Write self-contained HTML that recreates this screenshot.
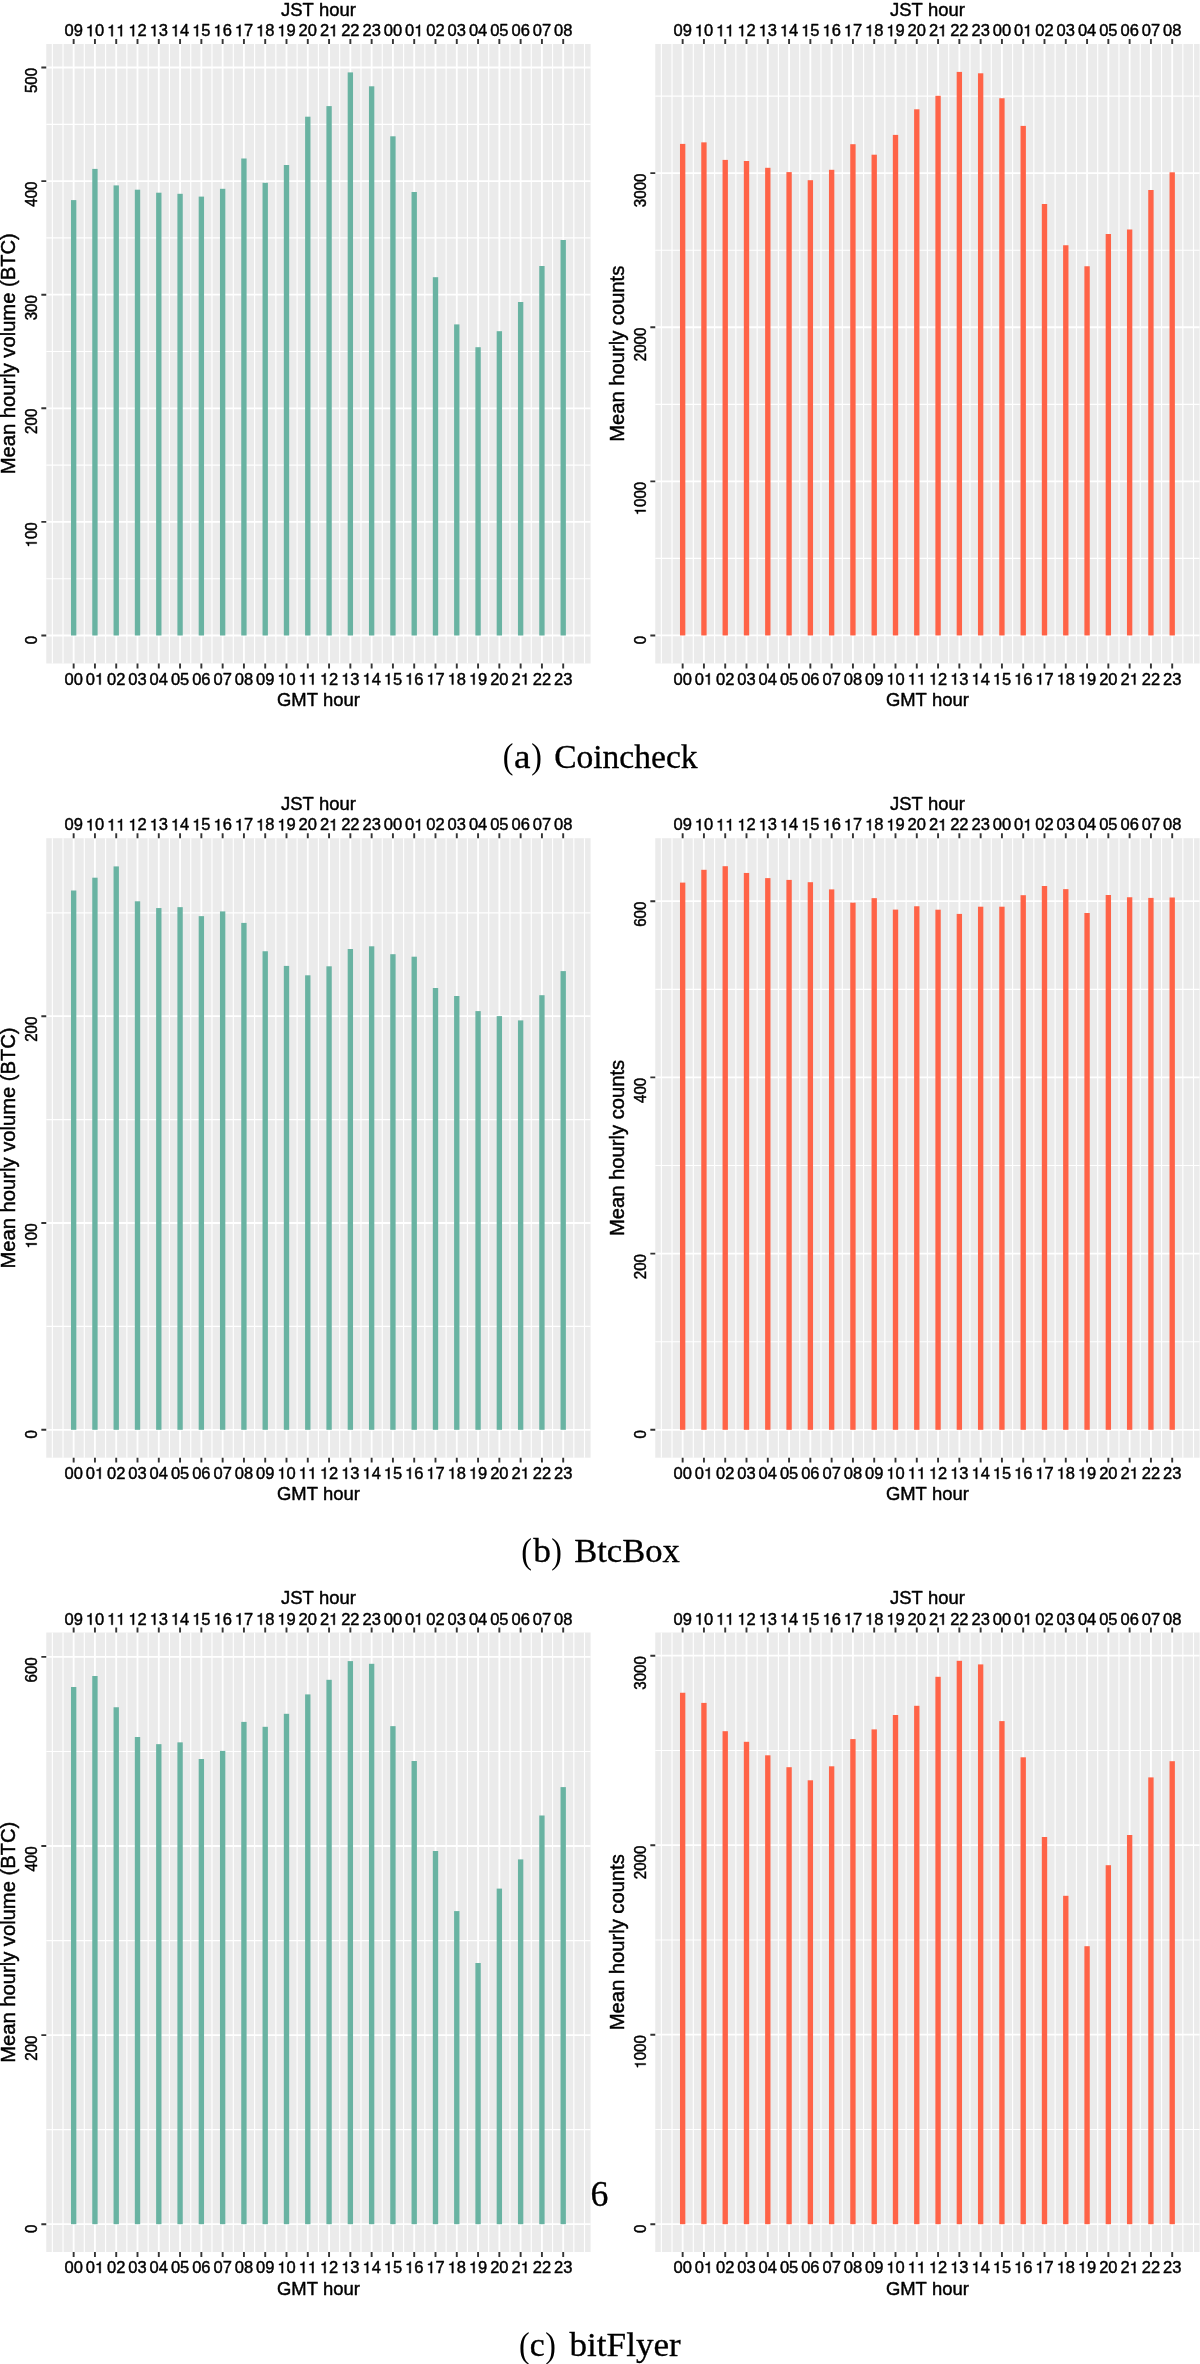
<!DOCTYPE html>
<html><head><meta charset="utf-8"><style>
html,body{margin:0;padding:0;background:#fff;}
body{width:1200px;height:2364px;overflow:hidden;}
svg{display:block;will-change:transform;}
.s text{font-family:"Liberation Sans",sans-serif;fill:#000000;stroke:#000000;stroke-width:0.45px;stroke-linejoin:round;font-kerning:none;font-feature-settings:"kern" 0;}
.h{fill-opacity:0;stroke-opacity:0;}
.o{fill:#000;stroke:#000;stroke-width:0.45px;stroke-linejoin:round;}
.r .b{stroke:#000;stroke-width:1.8;stroke-linejoin:round;}
.r{font-family:"Liberation Serif",serif;fill:#000;}
</style></head><body>
<svg width="1200" height="2364" viewBox="0 0 1200 2364">
<g class="s"><g><rect x="46.25" y="44" width="544.35" height="619.5" fill="#ebebeb"/><line x1="46.25" x2="590.6" y1="578.7" y2="578.7" stroke="#fff" stroke-width="1.15"/><line x1="46.25" x2="590.6" y1="465.1" y2="465.1" stroke="#fff" stroke-width="1.15"/><line x1="46.25" x2="590.6" y1="351.5" y2="351.5" stroke="#fff" stroke-width="1.15"/><line x1="46.25" x2="590.6" y1="237.9" y2="237.9" stroke="#fff" stroke-width="1.15"/><line x1="46.25" x2="590.6" y1="124.3" y2="124.3" stroke="#fff" stroke-width="1.15"/><line x1="52.37" x2="52.37" y1="44" y2="663.5" stroke="#fff" stroke-width="1.15"/><line x1="63.01" x2="63.01" y1="44" y2="663.5" stroke="#fff" stroke-width="1.15"/><line x1="84.29" x2="84.29" y1="44" y2="663.5" stroke="#fff" stroke-width="1.15"/><line x1="105.58" x2="105.58" y1="44" y2="663.5" stroke="#fff" stroke-width="1.15"/><line x1="126.86" x2="126.86" y1="44" y2="663.5" stroke="#fff" stroke-width="1.15"/><line x1="148.15" x2="148.15" y1="44" y2="663.5" stroke="#fff" stroke-width="1.15"/><line x1="169.43" x2="169.43" y1="44" y2="663.5" stroke="#fff" stroke-width="1.15"/><line x1="190.72" x2="190.72" y1="44" y2="663.5" stroke="#fff" stroke-width="1.15"/><line x1="212" x2="212" y1="44" y2="663.5" stroke="#fff" stroke-width="1.15"/><line x1="233.29" x2="233.29" y1="44" y2="663.5" stroke="#fff" stroke-width="1.15"/><line x1="254.57" x2="254.57" y1="44" y2="663.5" stroke="#fff" stroke-width="1.15"/><line x1="275.86" x2="275.86" y1="44" y2="663.5" stroke="#fff" stroke-width="1.15"/><line x1="297.14" x2="297.14" y1="44" y2="663.5" stroke="#fff" stroke-width="1.15"/><line x1="318.43" x2="318.43" y1="44" y2="663.5" stroke="#fff" stroke-width="1.15"/><line x1="339.71" x2="339.71" y1="44" y2="663.5" stroke="#fff" stroke-width="1.15"/><line x1="361" x2="361" y1="44" y2="663.5" stroke="#fff" stroke-width="1.15"/><line x1="382.28" x2="382.28" y1="44" y2="663.5" stroke="#fff" stroke-width="1.15"/><line x1="403.57" x2="403.57" y1="44" y2="663.5" stroke="#fff" stroke-width="1.15"/><line x1="424.85" x2="424.85" y1="44" y2="663.5" stroke="#fff" stroke-width="1.15"/><line x1="446.14" x2="446.14" y1="44" y2="663.5" stroke="#fff" stroke-width="1.15"/><line x1="467.42" x2="467.42" y1="44" y2="663.5" stroke="#fff" stroke-width="1.15"/><line x1="488.71" x2="488.71" y1="44" y2="663.5" stroke="#fff" stroke-width="1.15"/><line x1="509.99" x2="509.99" y1="44" y2="663.5" stroke="#fff" stroke-width="1.15"/><line x1="531.28" x2="531.28" y1="44" y2="663.5" stroke="#fff" stroke-width="1.15"/><line x1="552.56" x2="552.56" y1="44" y2="663.5" stroke="#fff" stroke-width="1.15"/><line x1="573.85" x2="573.85" y1="44" y2="663.5" stroke="#fff" stroke-width="1.15"/><line x1="584.49" x2="584.49" y1="44" y2="663.5" stroke="#fff" stroke-width="1.15"/><line x1="46.25" x2="590.6" y1="635.5" y2="635.5" stroke="#fff" stroke-width="1.8"/><line x1="46.25" x2="590.6" y1="521.9" y2="521.9" stroke="#fff" stroke-width="1.8"/><line x1="46.25" x2="590.6" y1="408.3" y2="408.3" stroke="#fff" stroke-width="1.8"/><line x1="46.25" x2="590.6" y1="294.7" y2="294.7" stroke="#fff" stroke-width="1.8"/><line x1="46.25" x2="590.6" y1="181.1" y2="181.1" stroke="#fff" stroke-width="1.8"/><line x1="46.25" x2="590.6" y1="67.5" y2="67.5" stroke="#fff" stroke-width="1.8"/><line x1="73.65" x2="73.65" y1="44" y2="663.5" stroke="#fff" stroke-width="1.8"/><line x1="94.94" x2="94.94" y1="44" y2="663.5" stroke="#fff" stroke-width="1.8"/><line x1="116.22" x2="116.22" y1="44" y2="663.5" stroke="#fff" stroke-width="1.8"/><line x1="137.5" x2="137.5" y1="44" y2="663.5" stroke="#fff" stroke-width="1.8"/><line x1="158.79" x2="158.79" y1="44" y2="663.5" stroke="#fff" stroke-width="1.8"/><line x1="180.07" x2="180.07" y1="44" y2="663.5" stroke="#fff" stroke-width="1.8"/><line x1="201.36" x2="201.36" y1="44" y2="663.5" stroke="#fff" stroke-width="1.8"/><line x1="222.65" x2="222.65" y1="44" y2="663.5" stroke="#fff" stroke-width="1.8"/><line x1="243.93" x2="243.93" y1="44" y2="663.5" stroke="#fff" stroke-width="1.8"/><line x1="265.22" x2="265.22" y1="44" y2="663.5" stroke="#fff" stroke-width="1.8"/><line x1="286.5" x2="286.5" y1="44" y2="663.5" stroke="#fff" stroke-width="1.8"/><line x1="307.78" x2="307.78" y1="44" y2="663.5" stroke="#fff" stroke-width="1.8"/><line x1="329.07" x2="329.07" y1="44" y2="663.5" stroke="#fff" stroke-width="1.8"/><line x1="350.36" x2="350.36" y1="44" y2="663.5" stroke="#fff" stroke-width="1.8"/><line x1="371.64" x2="371.64" y1="44" y2="663.5" stroke="#fff" stroke-width="1.8"/><line x1="392.92" x2="392.92" y1="44" y2="663.5" stroke="#fff" stroke-width="1.8"/><line x1="414.21" x2="414.21" y1="44" y2="663.5" stroke="#fff" stroke-width="1.8"/><line x1="435.5" x2="435.5" y1="44" y2="663.5" stroke="#fff" stroke-width="1.8"/><line x1="456.78" x2="456.78" y1="44" y2="663.5" stroke="#fff" stroke-width="1.8"/><line x1="478.07" x2="478.07" y1="44" y2="663.5" stroke="#fff" stroke-width="1.8"/><line x1="499.35" x2="499.35" y1="44" y2="663.5" stroke="#fff" stroke-width="1.8"/><line x1="520.63" x2="520.63" y1="44" y2="663.5" stroke="#fff" stroke-width="1.8"/><line x1="541.92" x2="541.92" y1="44" y2="663.5" stroke="#fff" stroke-width="1.8"/><line x1="563.21" x2="563.21" y1="44" y2="663.5" stroke="#fff" stroke-width="1.8"/><rect x="70.98" y="200.1" width="5.35" height="435.4" fill="#69b3a2"/><rect x="92.26" y="168.9" width="5.35" height="466.6" fill="#69b3a2"/><rect x="113.55" y="185.4" width="5.35" height="450.1" fill="#69b3a2"/><rect x="134.83" y="189.7" width="5.35" height="445.8" fill="#69b3a2"/><rect x="156.12" y="192.7" width="5.35" height="442.8" fill="#69b3a2"/><rect x="177.4" y="193.8" width="5.35" height="441.7" fill="#69b3a2"/><rect x="198.69" y="196.6" width="5.35" height="438.9" fill="#69b3a2"/><rect x="219.97" y="188.8" width="5.35" height="446.7" fill="#69b3a2"/><rect x="241.25" y="158.5" width="5.35" height="477" fill="#69b3a2"/><rect x="262.54" y="182.8" width="5.35" height="452.7" fill="#69b3a2"/><rect x="283.82" y="165" width="5.35" height="470.5" fill="#69b3a2"/><rect x="305.11" y="116.7" width="5.35" height="518.8" fill="#69b3a2"/><rect x="326.4" y="106.1" width="5.35" height="529.4" fill="#69b3a2"/><rect x="347.68" y="72.4" width="5.35" height="563.1" fill="#69b3a2"/><rect x="368.96" y="86.3" width="5.35" height="549.2" fill="#69b3a2"/><rect x="390.25" y="136.3" width="5.35" height="499.2" fill="#69b3a2"/><rect x="411.54" y="192" width="5.35" height="443.5" fill="#69b3a2"/><rect x="432.82" y="277.2" width="5.35" height="358.3" fill="#69b3a2"/><rect x="454.1" y="324.4" width="5.35" height="311.1" fill="#69b3a2"/><rect x="475.39" y="347.2" width="5.35" height="288.3" fill="#69b3a2"/><rect x="496.68" y="331.2" width="5.35" height="304.3" fill="#69b3a2"/><rect x="517.96" y="302" width="5.35" height="333.5" fill="#69b3a2"/><rect x="539.25" y="266" width="5.35" height="369.5" fill="#69b3a2"/><rect x="560.53" y="240" width="5.35" height="395.5" fill="#69b3a2"/><path d="M73.65 39.1V44M73.65 663.5V668.4M94.94 39.1V44M94.94 663.5V668.4M116.22 39.1V44M116.22 663.5V668.4M137.5 39.1V44M137.5 663.5V668.4M158.79 39.1V44M158.79 663.5V668.4M180.07 39.1V44M180.07 663.5V668.4M201.36 39.1V44M201.36 663.5V668.4M222.65 39.1V44M222.65 663.5V668.4M243.93 39.1V44M243.93 663.5V668.4M265.22 39.1V44M265.22 663.5V668.4M286.5 39.1V44M286.5 663.5V668.4M307.78 39.1V44M307.78 663.5V668.4M329.07 39.1V44M329.07 663.5V668.4M350.36 39.1V44M350.36 663.5V668.4M371.64 39.1V44M371.64 663.5V668.4M392.92 39.1V44M392.92 663.5V668.4M414.21 39.1V44M414.21 663.5V668.4M435.5 39.1V44M435.5 663.5V668.4M456.78 39.1V44M456.78 663.5V668.4M478.07 39.1V44M478.07 663.5V668.4M499.35 39.1V44M499.35 663.5V668.4M520.63 39.1V44M520.63 663.5V668.4M541.92 39.1V44M541.92 663.5V668.4M563.21 39.1V44M563.21 663.5V668.4M41.35 635.5H46.25M41.35 521.9H46.25M41.35 408.3H46.25M41.35 294.7H46.25M41.35 181.1H46.25M41.35 67.5H46.25" stroke="#333333" stroke-width="1.9" fill="none"/><g font-size="16.5" text-anchor="middle"><g transform="translate(73.65,36.2) scale(1,1.0)"><text>09</text></g><g transform="translate(73.65,684.6) scale(1,1.0)"><text>00</text></g><g transform="translate(94.94,36.2) scale(1,1.0)"><text><tspan class="h">1</tspan>0</text><path class="o" d="M-3.45 0L-3.45 -11.35L-4.41 -11.35C-4.92 -9.61 -5.25 -9.37 -7.49 -9.09L-7.49 -8.09L-4.9 -8.09L-4.9 0Z"/></g><g transform="translate(94.94,684.6) scale(1,1.0)"><text>0<tspan class="h">1</tspan></text><path class="o" d="M5.73 0L5.73 -11.35L4.77 -11.35C4.26 -9.61 3.93 -9.37 1.68 -9.09L1.68 -8.09L4.27 -8.09L4.27 0Z"/></g><g transform="translate(116.22,36.2) scale(1,1.0)"><text><tspan class="h">1</tspan><tspan class="h">1</tspan></text><path class="o" d="M-3.45 0L-3.45 -11.35L-4.41 -11.35C-4.92 -9.61 -5.25 -9.37 -7.49 -9.09L-7.49 -8.09L-4.9 -8.09L-4.9 0Z"/><path class="o" d="M5.73 0L5.73 -11.35L4.77 -11.35C4.26 -9.61 3.93 -9.37 1.68 -9.09L1.68 -8.09L4.27 -8.09L4.27 0Z"/></g><g transform="translate(116.22,684.6) scale(1,1.0)"><text>02</text></g><g transform="translate(137.5,36.2) scale(1,1.0)"><text><tspan class="h">1</tspan>2</text><path class="o" d="M-3.45 0L-3.45 -11.35L-4.41 -11.35C-4.92 -9.61 -5.25 -9.37 -7.49 -9.09L-7.49 -8.09L-4.9 -8.09L-4.9 0Z"/></g><g transform="translate(137.5,684.6) scale(1,1.0)"><text>03</text></g><g transform="translate(158.79,36.2) scale(1,1.0)"><text><tspan class="h">1</tspan>3</text><path class="o" d="M-3.45 0L-3.45 -11.35L-4.41 -11.35C-4.92 -9.61 -5.25 -9.37 -7.49 -9.09L-7.49 -8.09L-4.9 -8.09L-4.9 0Z"/></g><g transform="translate(158.79,684.6) scale(1,1.0)"><text>04</text></g><g transform="translate(180.07,36.2) scale(1,1.0)"><text><tspan class="h">1</tspan>4</text><path class="o" d="M-3.45 0L-3.45 -11.35L-4.41 -11.35C-4.92 -9.61 -5.25 -9.37 -7.49 -9.09L-7.49 -8.09L-4.9 -8.09L-4.9 0Z"/></g><g transform="translate(180.07,684.6) scale(1,1.0)"><text>05</text></g><g transform="translate(201.36,36.2) scale(1,1.0)"><text><tspan class="h">1</tspan>5</text><path class="o" d="M-3.45 0L-3.45 -11.35L-4.41 -11.35C-4.92 -9.61 -5.25 -9.37 -7.49 -9.09L-7.49 -8.09L-4.9 -8.09L-4.9 0Z"/></g><g transform="translate(201.36,684.6) scale(1,1.0)"><text>06</text></g><g transform="translate(222.65,36.2) scale(1,1.0)"><text><tspan class="h">1</tspan>6</text><path class="o" d="M-3.45 0L-3.45 -11.35L-4.41 -11.35C-4.92 -9.61 -5.25 -9.37 -7.49 -9.09L-7.49 -8.09L-4.9 -8.09L-4.9 0Z"/></g><g transform="translate(222.65,684.6) scale(1,1.0)"><text>07</text></g><g transform="translate(243.93,36.2) scale(1,1.0)"><text><tspan class="h">1</tspan>7</text><path class="o" d="M-3.45 0L-3.45 -11.35L-4.41 -11.35C-4.92 -9.61 -5.25 -9.37 -7.49 -9.09L-7.49 -8.09L-4.9 -8.09L-4.9 0Z"/></g><g transform="translate(243.93,684.6) scale(1,1.0)"><text>08</text></g><g transform="translate(265.22,36.2) scale(1,1.0)"><text><tspan class="h">1</tspan>8</text><path class="o" d="M-3.45 0L-3.45 -11.35L-4.41 -11.35C-4.92 -9.61 -5.25 -9.37 -7.49 -9.09L-7.49 -8.09L-4.9 -8.09L-4.9 0Z"/></g><g transform="translate(265.22,684.6) scale(1,1.0)"><text>09</text></g><g transform="translate(286.5,36.2) scale(1,1.0)"><text><tspan class="h">1</tspan>9</text><path class="o" d="M-3.45 0L-3.45 -11.35L-4.41 -11.35C-4.92 -9.61 -5.25 -9.37 -7.49 -9.09L-7.49 -8.09L-4.9 -8.09L-4.9 0Z"/></g><g transform="translate(286.5,684.6) scale(1,1.0)"><text><tspan class="h">1</tspan>0</text><path class="o" d="M-3.45 0L-3.45 -11.35L-4.41 -11.35C-4.92 -9.61 -5.25 -9.37 -7.49 -9.09L-7.49 -8.09L-4.9 -8.09L-4.9 0Z"/></g><g transform="translate(307.78,36.2) scale(1,1.0)"><text>20</text></g><g transform="translate(307.78,684.6) scale(1,1.0)"><text><tspan class="h">1</tspan><tspan class="h">1</tspan></text><path class="o" d="M-3.45 0L-3.45 -11.35L-4.41 -11.35C-4.92 -9.61 -5.25 -9.37 -7.49 -9.09L-7.49 -8.09L-4.9 -8.09L-4.9 0Z"/><path class="o" d="M5.73 0L5.73 -11.35L4.77 -11.35C4.26 -9.61 3.93 -9.37 1.68 -9.09L1.68 -8.09L4.27 -8.09L4.27 0Z"/></g><g transform="translate(329.07,36.2) scale(1,1.0)"><text>2<tspan class="h">1</tspan></text><path class="o" d="M5.73 0L5.73 -11.35L4.77 -11.35C4.26 -9.61 3.93 -9.37 1.68 -9.09L1.68 -8.09L4.27 -8.09L4.27 0Z"/></g><g transform="translate(329.07,684.6) scale(1,1.0)"><text><tspan class="h">1</tspan>2</text><path class="o" d="M-3.45 0L-3.45 -11.35L-4.41 -11.35C-4.92 -9.61 -5.25 -9.37 -7.49 -9.09L-7.49 -8.09L-4.9 -8.09L-4.9 0Z"/></g><g transform="translate(350.36,36.2) scale(1,1.0)"><text>22</text></g><g transform="translate(350.36,684.6) scale(1,1.0)"><text><tspan class="h">1</tspan>3</text><path class="o" d="M-3.45 0L-3.45 -11.35L-4.41 -11.35C-4.92 -9.61 -5.25 -9.37 -7.49 -9.09L-7.49 -8.09L-4.9 -8.09L-4.9 0Z"/></g><g transform="translate(371.64,36.2) scale(1,1.0)"><text>23</text></g><g transform="translate(371.64,684.6) scale(1,1.0)"><text><tspan class="h">1</tspan>4</text><path class="o" d="M-3.45 0L-3.45 -11.35L-4.41 -11.35C-4.92 -9.61 -5.25 -9.37 -7.49 -9.09L-7.49 -8.09L-4.9 -8.09L-4.9 0Z"/></g><g transform="translate(392.92,36.2) scale(1,1.0)"><text>00</text></g><g transform="translate(392.92,684.6) scale(1,1.0)"><text><tspan class="h">1</tspan>5</text><path class="o" d="M-3.45 0L-3.45 -11.35L-4.41 -11.35C-4.92 -9.61 -5.25 -9.37 -7.49 -9.09L-7.49 -8.09L-4.9 -8.09L-4.9 0Z"/></g><g transform="translate(414.21,36.2) scale(1,1.0)"><text>0<tspan class="h">1</tspan></text><path class="o" d="M5.73 0L5.73 -11.35L4.77 -11.35C4.26 -9.61 3.93 -9.37 1.68 -9.09L1.68 -8.09L4.27 -8.09L4.27 0Z"/></g><g transform="translate(414.21,684.6) scale(1,1.0)"><text><tspan class="h">1</tspan>6</text><path class="o" d="M-3.45 0L-3.45 -11.35L-4.41 -11.35C-4.92 -9.61 -5.25 -9.37 -7.49 -9.09L-7.49 -8.09L-4.9 -8.09L-4.9 0Z"/></g><g transform="translate(435.5,36.2) scale(1,1.0)"><text>02</text></g><g transform="translate(435.5,684.6) scale(1,1.0)"><text><tspan class="h">1</tspan>7</text><path class="o" d="M-3.45 0L-3.45 -11.35L-4.41 -11.35C-4.92 -9.61 -5.25 -9.37 -7.49 -9.09L-7.49 -8.09L-4.9 -8.09L-4.9 0Z"/></g><g transform="translate(456.78,36.2) scale(1,1.0)"><text>03</text></g><g transform="translate(456.78,684.6) scale(1,1.0)"><text><tspan class="h">1</tspan>8</text><path class="o" d="M-3.45 0L-3.45 -11.35L-4.41 -11.35C-4.92 -9.61 -5.25 -9.37 -7.49 -9.09L-7.49 -8.09L-4.9 -8.09L-4.9 0Z"/></g><g transform="translate(478.07,36.2) scale(1,1.0)"><text>04</text></g><g transform="translate(478.07,684.6) scale(1,1.0)"><text><tspan class="h">1</tspan>9</text><path class="o" d="M-3.45 0L-3.45 -11.35L-4.41 -11.35C-4.92 -9.61 -5.25 -9.37 -7.49 -9.09L-7.49 -8.09L-4.9 -8.09L-4.9 0Z"/></g><g transform="translate(499.35,36.2) scale(1,1.0)"><text>05</text></g><g transform="translate(499.35,684.6) scale(1,1.0)"><text>20</text></g><g transform="translate(520.63,36.2) scale(1,1.0)"><text>06</text></g><g transform="translate(520.63,684.6) scale(1,1.0)"><text>2<tspan class="h">1</tspan></text><path class="o" d="M5.73 0L5.73 -11.35L4.77 -11.35C4.26 -9.61 3.93 -9.37 1.68 -9.09L1.68 -8.09L4.27 -8.09L4.27 0Z"/></g><g transform="translate(541.92,36.2) scale(1,1.0)"><text>07</text></g><g transform="translate(541.92,684.6) scale(1,1.0)"><text>22</text></g><g transform="translate(563.21,36.2) scale(1,1.0)"><text>08</text></g><g transform="translate(563.21,684.6) scale(1,1.0)"><text>23</text></g></g><g font-size="18.45" text-anchor="middle"><text transform="translate(318.43,15.9) scale(1,1.044)">JST hour</text><text transform="translate(318.43,706) scale(1,1.044)">GMT hour</text></g><g font-size="15.1" text-anchor="end"><g transform="translate(36.65,635.9) rotate(-90) scale(1,1.035)"><text>0</text></g><g transform="translate(36.65,522.3) rotate(-90) scale(1,1.035)"><text><tspan class="h">1</tspan>00</text><path class="o" d="M-19.95 0L-19.95 -10.39L-20.83 -10.39C-21.3 -8.79 -21.6 -8.57 -23.65 -8.32L-23.65 -7.4L-21.28 -7.4L-21.28 0Z"/></g><g transform="translate(36.65,408.7) rotate(-90) scale(1,1.035)"><text>200</text></g><g transform="translate(36.65,295.1) rotate(-90) scale(1,1.035)"><text>300</text></g><g transform="translate(36.65,181.5) rotate(-90) scale(1,1.035)"><text>400</text></g><g transform="translate(36.65,67.9) rotate(-90) scale(1,1.035)"><text>500</text></g></g><text font-size="20.2" text-anchor="middle" transform="translate(14.95,353.75) rotate(-90) scale(1,1.044)">Mean hourly volume (BTC)</text></g><g><rect x="655.25" y="44" width="544.35" height="619.5" fill="#ebebeb"/><line x1="655.25" x2="1199.6" y1="558.4" y2="558.4" stroke="#fff" stroke-width="1.15"/><line x1="655.25" x2="1199.6" y1="404.3" y2="404.3" stroke="#fff" stroke-width="1.15"/><line x1="655.25" x2="1199.6" y1="250.2" y2="250.2" stroke="#fff" stroke-width="1.15"/><line x1="655.25" x2="1199.6" y1="96.1" y2="96.1" stroke="#fff" stroke-width="1.15"/><line x1="661.37" x2="661.37" y1="44" y2="663.5" stroke="#fff" stroke-width="1.15"/><line x1="672.01" x2="672.01" y1="44" y2="663.5" stroke="#fff" stroke-width="1.15"/><line x1="693.29" x2="693.29" y1="44" y2="663.5" stroke="#fff" stroke-width="1.15"/><line x1="714.58" x2="714.58" y1="44" y2="663.5" stroke="#fff" stroke-width="1.15"/><line x1="735.86" x2="735.86" y1="44" y2="663.5" stroke="#fff" stroke-width="1.15"/><line x1="757.15" x2="757.15" y1="44" y2="663.5" stroke="#fff" stroke-width="1.15"/><line x1="778.43" x2="778.43" y1="44" y2="663.5" stroke="#fff" stroke-width="1.15"/><line x1="799.72" x2="799.72" y1="44" y2="663.5" stroke="#fff" stroke-width="1.15"/><line x1="821" x2="821" y1="44" y2="663.5" stroke="#fff" stroke-width="1.15"/><line x1="842.29" x2="842.29" y1="44" y2="663.5" stroke="#fff" stroke-width="1.15"/><line x1="863.57" x2="863.57" y1="44" y2="663.5" stroke="#fff" stroke-width="1.15"/><line x1="884.86" x2="884.86" y1="44" y2="663.5" stroke="#fff" stroke-width="1.15"/><line x1="906.14" x2="906.14" y1="44" y2="663.5" stroke="#fff" stroke-width="1.15"/><line x1="927.43" x2="927.43" y1="44" y2="663.5" stroke="#fff" stroke-width="1.15"/><line x1="948.71" x2="948.71" y1="44" y2="663.5" stroke="#fff" stroke-width="1.15"/><line x1="970" x2="970" y1="44" y2="663.5" stroke="#fff" stroke-width="1.15"/><line x1="991.28" x2="991.28" y1="44" y2="663.5" stroke="#fff" stroke-width="1.15"/><line x1="1012.57" x2="1012.57" y1="44" y2="663.5" stroke="#fff" stroke-width="1.15"/><line x1="1033.85" x2="1033.85" y1="44" y2="663.5" stroke="#fff" stroke-width="1.15"/><line x1="1055.14" x2="1055.14" y1="44" y2="663.5" stroke="#fff" stroke-width="1.15"/><line x1="1076.42" x2="1076.42" y1="44" y2="663.5" stroke="#fff" stroke-width="1.15"/><line x1="1097.71" x2="1097.71" y1="44" y2="663.5" stroke="#fff" stroke-width="1.15"/><line x1="1118.99" x2="1118.99" y1="44" y2="663.5" stroke="#fff" stroke-width="1.15"/><line x1="1140.28" x2="1140.28" y1="44" y2="663.5" stroke="#fff" stroke-width="1.15"/><line x1="1161.56" x2="1161.56" y1="44" y2="663.5" stroke="#fff" stroke-width="1.15"/><line x1="1182.85" x2="1182.85" y1="44" y2="663.5" stroke="#fff" stroke-width="1.15"/><line x1="1193.49" x2="1193.49" y1="44" y2="663.5" stroke="#fff" stroke-width="1.15"/><line x1="655.25" x2="1199.6" y1="635.45" y2="635.45" stroke="#fff" stroke-width="1.8"/><line x1="655.25" x2="1199.6" y1="481.35" y2="481.35" stroke="#fff" stroke-width="1.8"/><line x1="655.25" x2="1199.6" y1="327.25" y2="327.25" stroke="#fff" stroke-width="1.8"/><line x1="655.25" x2="1199.6" y1="173.15" y2="173.15" stroke="#fff" stroke-width="1.8"/><line x1="682.65" x2="682.65" y1="44" y2="663.5" stroke="#fff" stroke-width="1.8"/><line x1="703.93" x2="703.93" y1="44" y2="663.5" stroke="#fff" stroke-width="1.8"/><line x1="725.22" x2="725.22" y1="44" y2="663.5" stroke="#fff" stroke-width="1.8"/><line x1="746.5" x2="746.5" y1="44" y2="663.5" stroke="#fff" stroke-width="1.8"/><line x1="767.79" x2="767.79" y1="44" y2="663.5" stroke="#fff" stroke-width="1.8"/><line x1="789.07" x2="789.07" y1="44" y2="663.5" stroke="#fff" stroke-width="1.8"/><line x1="810.36" x2="810.36" y1="44" y2="663.5" stroke="#fff" stroke-width="1.8"/><line x1="831.64" x2="831.64" y1="44" y2="663.5" stroke="#fff" stroke-width="1.8"/><line x1="852.93" x2="852.93" y1="44" y2="663.5" stroke="#fff" stroke-width="1.8"/><line x1="874.21" x2="874.21" y1="44" y2="663.5" stroke="#fff" stroke-width="1.8"/><line x1="895.5" x2="895.5" y1="44" y2="663.5" stroke="#fff" stroke-width="1.8"/><line x1="916.78" x2="916.78" y1="44" y2="663.5" stroke="#fff" stroke-width="1.8"/><line x1="938.07" x2="938.07" y1="44" y2="663.5" stroke="#fff" stroke-width="1.8"/><line x1="959.36" x2="959.36" y1="44" y2="663.5" stroke="#fff" stroke-width="1.8"/><line x1="980.64" x2="980.64" y1="44" y2="663.5" stroke="#fff" stroke-width="1.8"/><line x1="1001.92" x2="1001.92" y1="44" y2="663.5" stroke="#fff" stroke-width="1.8"/><line x1="1023.21" x2="1023.21" y1="44" y2="663.5" stroke="#fff" stroke-width="1.8"/><line x1="1044.49" x2="1044.49" y1="44" y2="663.5" stroke="#fff" stroke-width="1.8"/><line x1="1065.78" x2="1065.78" y1="44" y2="663.5" stroke="#fff" stroke-width="1.8"/><line x1="1087.07" x2="1087.07" y1="44" y2="663.5" stroke="#fff" stroke-width="1.8"/><line x1="1108.35" x2="1108.35" y1="44" y2="663.5" stroke="#fff" stroke-width="1.8"/><line x1="1129.63" x2="1129.63" y1="44" y2="663.5" stroke="#fff" stroke-width="1.8"/><line x1="1150.92" x2="1150.92" y1="44" y2="663.5" stroke="#fff" stroke-width="1.8"/><line x1="1172.2" x2="1172.2" y1="44" y2="663.5" stroke="#fff" stroke-width="1.8"/><rect x="679.98" y="143.9" width="5.35" height="491.55" fill="#ff6347"/><rect x="701.26" y="142.35" width="5.35" height="493.1" fill="#ff6347"/><rect x="722.55" y="159.9" width="5.35" height="475.55" fill="#ff6347"/><rect x="743.83" y="161" width="5.35" height="474.45" fill="#ff6347"/><rect x="765.12" y="167.8" width="5.35" height="467.65" fill="#ff6347"/><rect x="786.4" y="172.1" width="5.35" height="463.35" fill="#ff6347"/><rect x="807.69" y="180.2" width="5.35" height="455.25" fill="#ff6347"/><rect x="828.97" y="169.8" width="5.35" height="465.65" fill="#ff6347"/><rect x="850.25" y="144.2" width="5.35" height="491.25" fill="#ff6347"/><rect x="871.54" y="154.7" width="5.35" height="480.75" fill="#ff6347"/><rect x="892.83" y="134.9" width="5.35" height="500.55" fill="#ff6347"/><rect x="914.11" y="109.3" width="5.35" height="526.15" fill="#ff6347"/><rect x="935.39" y="95.8" width="5.35" height="539.65" fill="#ff6347"/><rect x="956.68" y="71.9" width="5.35" height="563.55" fill="#ff6347"/><rect x="977.97" y="73.3" width="5.35" height="562.15" fill="#ff6347"/><rect x="999.25" y="98.25" width="5.35" height="537.2" fill="#ff6347"/><rect x="1020.54" y="125.9" width="5.35" height="509.55" fill="#ff6347"/><rect x="1041.82" y="204" width="5.35" height="431.45" fill="#ff6347"/><rect x="1063.11" y="245.25" width="5.35" height="390.2" fill="#ff6347"/><rect x="1084.39" y="266.25" width="5.35" height="369.2" fill="#ff6347"/><rect x="1105.67" y="234" width="5.35" height="401.45" fill="#ff6347"/><rect x="1126.96" y="229.5" width="5.35" height="405.95" fill="#ff6347"/><rect x="1148.25" y="190" width="5.35" height="445.45" fill="#ff6347"/><rect x="1169.53" y="172.3" width="5.35" height="463.15" fill="#ff6347"/><path d="M682.65 39.1V44M682.65 663.5V668.4M703.93 39.1V44M703.93 663.5V668.4M725.22 39.1V44M725.22 663.5V668.4M746.5 39.1V44M746.5 663.5V668.4M767.79 39.1V44M767.79 663.5V668.4M789.07 39.1V44M789.07 663.5V668.4M810.36 39.1V44M810.36 663.5V668.4M831.64 39.1V44M831.64 663.5V668.4M852.93 39.1V44M852.93 663.5V668.4M874.21 39.1V44M874.21 663.5V668.4M895.5 39.1V44M895.5 663.5V668.4M916.78 39.1V44M916.78 663.5V668.4M938.07 39.1V44M938.07 663.5V668.4M959.36 39.1V44M959.36 663.5V668.4M980.64 39.1V44M980.64 663.5V668.4M1001.92 39.1V44M1001.92 663.5V668.4M1023.21 39.1V44M1023.21 663.5V668.4M1044.49 39.1V44M1044.49 663.5V668.4M1065.78 39.1V44M1065.78 663.5V668.4M1087.07 39.1V44M1087.07 663.5V668.4M1108.35 39.1V44M1108.35 663.5V668.4M1129.63 39.1V44M1129.63 663.5V668.4M1150.92 39.1V44M1150.92 663.5V668.4M1172.2 39.1V44M1172.2 663.5V668.4M650.35 635.45H655.25M650.35 481.35H655.25M650.35 327.25H655.25M650.35 173.15H655.25" stroke="#333333" stroke-width="1.9" fill="none"/><g font-size="16.5" text-anchor="middle"><g transform="translate(682.65,36.2) scale(1,1.0)"><text>09</text></g><g transform="translate(682.65,684.6) scale(1,1.0)"><text>00</text></g><g transform="translate(703.93,36.2) scale(1,1.0)"><text><tspan class="h">1</tspan>0</text><path class="o" d="M-3.45 0L-3.45 -11.35L-4.41 -11.35C-4.92 -9.61 -5.25 -9.37 -7.49 -9.09L-7.49 -8.09L-4.9 -8.09L-4.9 0Z"/></g><g transform="translate(703.93,684.6) scale(1,1.0)"><text>0<tspan class="h">1</tspan></text><path class="o" d="M5.73 0L5.73 -11.35L4.77 -11.35C4.26 -9.61 3.93 -9.37 1.68 -9.09L1.68 -8.09L4.27 -8.09L4.27 0Z"/></g><g transform="translate(725.22,36.2) scale(1,1.0)"><text><tspan class="h">1</tspan><tspan class="h">1</tspan></text><path class="o" d="M-3.45 0L-3.45 -11.35L-4.41 -11.35C-4.92 -9.61 -5.25 -9.37 -7.49 -9.09L-7.49 -8.09L-4.9 -8.09L-4.9 0Z"/><path class="o" d="M5.73 0L5.73 -11.35L4.77 -11.35C4.26 -9.61 3.93 -9.37 1.68 -9.09L1.68 -8.09L4.27 -8.09L4.27 0Z"/></g><g transform="translate(725.22,684.6) scale(1,1.0)"><text>02</text></g><g transform="translate(746.5,36.2) scale(1,1.0)"><text><tspan class="h">1</tspan>2</text><path class="o" d="M-3.45 0L-3.45 -11.35L-4.41 -11.35C-4.92 -9.61 -5.25 -9.37 -7.49 -9.09L-7.49 -8.09L-4.9 -8.09L-4.9 0Z"/></g><g transform="translate(746.5,684.6) scale(1,1.0)"><text>03</text></g><g transform="translate(767.79,36.2) scale(1,1.0)"><text><tspan class="h">1</tspan>3</text><path class="o" d="M-3.45 0L-3.45 -11.35L-4.41 -11.35C-4.92 -9.61 -5.25 -9.37 -7.49 -9.09L-7.49 -8.09L-4.9 -8.09L-4.9 0Z"/></g><g transform="translate(767.79,684.6) scale(1,1.0)"><text>04</text></g><g transform="translate(789.07,36.2) scale(1,1.0)"><text><tspan class="h">1</tspan>4</text><path class="o" d="M-3.45 0L-3.45 -11.35L-4.41 -11.35C-4.92 -9.61 -5.25 -9.37 -7.49 -9.09L-7.49 -8.09L-4.9 -8.09L-4.9 0Z"/></g><g transform="translate(789.07,684.6) scale(1,1.0)"><text>05</text></g><g transform="translate(810.36,36.2) scale(1,1.0)"><text><tspan class="h">1</tspan>5</text><path class="o" d="M-3.45 0L-3.45 -11.35L-4.41 -11.35C-4.92 -9.61 -5.25 -9.37 -7.49 -9.09L-7.49 -8.09L-4.9 -8.09L-4.9 0Z"/></g><g transform="translate(810.36,684.6) scale(1,1.0)"><text>06</text></g><g transform="translate(831.64,36.2) scale(1,1.0)"><text><tspan class="h">1</tspan>6</text><path class="o" d="M-3.45 0L-3.45 -11.35L-4.41 -11.35C-4.92 -9.61 -5.25 -9.37 -7.49 -9.09L-7.49 -8.09L-4.9 -8.09L-4.9 0Z"/></g><g transform="translate(831.64,684.6) scale(1,1.0)"><text>07</text></g><g transform="translate(852.93,36.2) scale(1,1.0)"><text><tspan class="h">1</tspan>7</text><path class="o" d="M-3.45 0L-3.45 -11.35L-4.41 -11.35C-4.92 -9.61 -5.25 -9.37 -7.49 -9.09L-7.49 -8.09L-4.9 -8.09L-4.9 0Z"/></g><g transform="translate(852.93,684.6) scale(1,1.0)"><text>08</text></g><g transform="translate(874.21,36.2) scale(1,1.0)"><text><tspan class="h">1</tspan>8</text><path class="o" d="M-3.45 0L-3.45 -11.35L-4.41 -11.35C-4.92 -9.61 -5.25 -9.37 -7.49 -9.09L-7.49 -8.09L-4.9 -8.09L-4.9 0Z"/></g><g transform="translate(874.21,684.6) scale(1,1.0)"><text>09</text></g><g transform="translate(895.5,36.2) scale(1,1.0)"><text><tspan class="h">1</tspan>9</text><path class="o" d="M-3.45 0L-3.45 -11.35L-4.41 -11.35C-4.92 -9.61 -5.25 -9.37 -7.49 -9.09L-7.49 -8.09L-4.9 -8.09L-4.9 0Z"/></g><g transform="translate(895.5,684.6) scale(1,1.0)"><text><tspan class="h">1</tspan>0</text><path class="o" d="M-3.45 0L-3.45 -11.35L-4.41 -11.35C-4.92 -9.61 -5.25 -9.37 -7.49 -9.09L-7.49 -8.09L-4.9 -8.09L-4.9 0Z"/></g><g transform="translate(916.78,36.2) scale(1,1.0)"><text>20</text></g><g transform="translate(916.78,684.6) scale(1,1.0)"><text><tspan class="h">1</tspan><tspan class="h">1</tspan></text><path class="o" d="M-3.45 0L-3.45 -11.35L-4.41 -11.35C-4.92 -9.61 -5.25 -9.37 -7.49 -9.09L-7.49 -8.09L-4.9 -8.09L-4.9 0Z"/><path class="o" d="M5.73 0L5.73 -11.35L4.77 -11.35C4.26 -9.61 3.93 -9.37 1.68 -9.09L1.68 -8.09L4.27 -8.09L4.27 0Z"/></g><g transform="translate(938.07,36.2) scale(1,1.0)"><text>2<tspan class="h">1</tspan></text><path class="o" d="M5.73 0L5.73 -11.35L4.77 -11.35C4.26 -9.61 3.93 -9.37 1.68 -9.09L1.68 -8.09L4.27 -8.09L4.27 0Z"/></g><g transform="translate(938.07,684.6) scale(1,1.0)"><text><tspan class="h">1</tspan>2</text><path class="o" d="M-3.45 0L-3.45 -11.35L-4.41 -11.35C-4.92 -9.61 -5.25 -9.37 -7.49 -9.09L-7.49 -8.09L-4.9 -8.09L-4.9 0Z"/></g><g transform="translate(959.36,36.2) scale(1,1.0)"><text>22</text></g><g transform="translate(959.36,684.6) scale(1,1.0)"><text><tspan class="h">1</tspan>3</text><path class="o" d="M-3.45 0L-3.45 -11.35L-4.41 -11.35C-4.92 -9.61 -5.25 -9.37 -7.49 -9.09L-7.49 -8.09L-4.9 -8.09L-4.9 0Z"/></g><g transform="translate(980.64,36.2) scale(1,1.0)"><text>23</text></g><g transform="translate(980.64,684.6) scale(1,1.0)"><text><tspan class="h">1</tspan>4</text><path class="o" d="M-3.45 0L-3.45 -11.35L-4.41 -11.35C-4.92 -9.61 -5.25 -9.37 -7.49 -9.09L-7.49 -8.09L-4.9 -8.09L-4.9 0Z"/></g><g transform="translate(1001.92,36.2) scale(1,1.0)"><text>00</text></g><g transform="translate(1001.92,684.6) scale(1,1.0)"><text><tspan class="h">1</tspan>5</text><path class="o" d="M-3.45 0L-3.45 -11.35L-4.41 -11.35C-4.92 -9.61 -5.25 -9.37 -7.49 -9.09L-7.49 -8.09L-4.9 -8.09L-4.9 0Z"/></g><g transform="translate(1023.21,36.2) scale(1,1.0)"><text>0<tspan class="h">1</tspan></text><path class="o" d="M5.73 0L5.73 -11.35L4.77 -11.35C4.26 -9.61 3.93 -9.37 1.68 -9.09L1.68 -8.09L4.27 -8.09L4.27 0Z"/></g><g transform="translate(1023.21,684.6) scale(1,1.0)"><text><tspan class="h">1</tspan>6</text><path class="o" d="M-3.45 0L-3.45 -11.35L-4.41 -11.35C-4.92 -9.61 -5.25 -9.37 -7.49 -9.09L-7.49 -8.09L-4.9 -8.09L-4.9 0Z"/></g><g transform="translate(1044.49,36.2) scale(1,1.0)"><text>02</text></g><g transform="translate(1044.49,684.6) scale(1,1.0)"><text><tspan class="h">1</tspan>7</text><path class="o" d="M-3.45 0L-3.45 -11.35L-4.41 -11.35C-4.92 -9.61 -5.25 -9.37 -7.49 -9.09L-7.49 -8.09L-4.9 -8.09L-4.9 0Z"/></g><g transform="translate(1065.78,36.2) scale(1,1.0)"><text>03</text></g><g transform="translate(1065.78,684.6) scale(1,1.0)"><text><tspan class="h">1</tspan>8</text><path class="o" d="M-3.45 0L-3.45 -11.35L-4.41 -11.35C-4.92 -9.61 -5.25 -9.37 -7.49 -9.09L-7.49 -8.09L-4.9 -8.09L-4.9 0Z"/></g><g transform="translate(1087.07,36.2) scale(1,1.0)"><text>04</text></g><g transform="translate(1087.07,684.6) scale(1,1.0)"><text><tspan class="h">1</tspan>9</text><path class="o" d="M-3.45 0L-3.45 -11.35L-4.41 -11.35C-4.92 -9.61 -5.25 -9.37 -7.49 -9.09L-7.49 -8.09L-4.9 -8.09L-4.9 0Z"/></g><g transform="translate(1108.35,36.2) scale(1,1.0)"><text>05</text></g><g transform="translate(1108.35,684.6) scale(1,1.0)"><text>20</text></g><g transform="translate(1129.63,36.2) scale(1,1.0)"><text>06</text></g><g transform="translate(1129.63,684.6) scale(1,1.0)"><text>2<tspan class="h">1</tspan></text><path class="o" d="M5.73 0L5.73 -11.35L4.77 -11.35C4.26 -9.61 3.93 -9.37 1.68 -9.09L1.68 -8.09L4.27 -8.09L4.27 0Z"/></g><g transform="translate(1150.92,36.2) scale(1,1.0)"><text>07</text></g><g transform="translate(1150.92,684.6) scale(1,1.0)"><text>22</text></g><g transform="translate(1172.2,36.2) scale(1,1.0)"><text>08</text></g><g transform="translate(1172.2,684.6) scale(1,1.0)"><text>23</text></g></g><g font-size="18.45" text-anchor="middle"><text transform="translate(927.42,15.9) scale(1,1.044)">JST hour</text><text transform="translate(927.42,706) scale(1,1.044)">GMT hour</text></g><g font-size="15.1" text-anchor="end"><g transform="translate(645.65,635.85) rotate(-90) scale(1,1.035)"><text>0</text></g><g transform="translate(645.65,481.75) rotate(-90) scale(1,1.035)"><text><tspan class="h">1</tspan>000</text><path class="o" d="M-28.35 0L-28.35 -10.39L-29.23 -10.39C-29.7 -8.79 -30 -8.57 -32.05 -8.32L-32.05 -7.4L-29.68 -7.4L-29.68 0Z"/></g><g transform="translate(645.65,327.65) rotate(-90) scale(1,1.035)"><text>2000</text></g><g transform="translate(645.65,173.55) rotate(-90) scale(1,1.035)"><text>3000</text></g></g><text font-size="20.2" text-anchor="middle" transform="translate(623.95,353.75) rotate(-90) scale(1,1.044)">Mean hourly counts</text></g><g><rect x="46.25" y="838.2" width="544.35" height="619.5" fill="#ebebeb"/><line x1="46.25" x2="590.6" y1="1326.4" y2="1326.4" stroke="#fff" stroke-width="1.15"/><line x1="46.25" x2="590.6" y1="1119.6" y2="1119.6" stroke="#fff" stroke-width="1.15"/><line x1="46.25" x2="590.6" y1="912.8" y2="912.8" stroke="#fff" stroke-width="1.15"/><line x1="52.37" x2="52.37" y1="838.2" y2="1457.7" stroke="#fff" stroke-width="1.15"/><line x1="63.01" x2="63.01" y1="838.2" y2="1457.7" stroke="#fff" stroke-width="1.15"/><line x1="84.29" x2="84.29" y1="838.2" y2="1457.7" stroke="#fff" stroke-width="1.15"/><line x1="105.58" x2="105.58" y1="838.2" y2="1457.7" stroke="#fff" stroke-width="1.15"/><line x1="126.86" x2="126.86" y1="838.2" y2="1457.7" stroke="#fff" stroke-width="1.15"/><line x1="148.15" x2="148.15" y1="838.2" y2="1457.7" stroke="#fff" stroke-width="1.15"/><line x1="169.43" x2="169.43" y1="838.2" y2="1457.7" stroke="#fff" stroke-width="1.15"/><line x1="190.72" x2="190.72" y1="838.2" y2="1457.7" stroke="#fff" stroke-width="1.15"/><line x1="212" x2="212" y1="838.2" y2="1457.7" stroke="#fff" stroke-width="1.15"/><line x1="233.29" x2="233.29" y1="838.2" y2="1457.7" stroke="#fff" stroke-width="1.15"/><line x1="254.57" x2="254.57" y1="838.2" y2="1457.7" stroke="#fff" stroke-width="1.15"/><line x1="275.86" x2="275.86" y1="838.2" y2="1457.7" stroke="#fff" stroke-width="1.15"/><line x1="297.14" x2="297.14" y1="838.2" y2="1457.7" stroke="#fff" stroke-width="1.15"/><line x1="318.43" x2="318.43" y1="838.2" y2="1457.7" stroke="#fff" stroke-width="1.15"/><line x1="339.71" x2="339.71" y1="838.2" y2="1457.7" stroke="#fff" stroke-width="1.15"/><line x1="361" x2="361" y1="838.2" y2="1457.7" stroke="#fff" stroke-width="1.15"/><line x1="382.28" x2="382.28" y1="838.2" y2="1457.7" stroke="#fff" stroke-width="1.15"/><line x1="403.57" x2="403.57" y1="838.2" y2="1457.7" stroke="#fff" stroke-width="1.15"/><line x1="424.85" x2="424.85" y1="838.2" y2="1457.7" stroke="#fff" stroke-width="1.15"/><line x1="446.14" x2="446.14" y1="838.2" y2="1457.7" stroke="#fff" stroke-width="1.15"/><line x1="467.42" x2="467.42" y1="838.2" y2="1457.7" stroke="#fff" stroke-width="1.15"/><line x1="488.71" x2="488.71" y1="838.2" y2="1457.7" stroke="#fff" stroke-width="1.15"/><line x1="509.99" x2="509.99" y1="838.2" y2="1457.7" stroke="#fff" stroke-width="1.15"/><line x1="531.28" x2="531.28" y1="838.2" y2="1457.7" stroke="#fff" stroke-width="1.15"/><line x1="552.56" x2="552.56" y1="838.2" y2="1457.7" stroke="#fff" stroke-width="1.15"/><line x1="573.85" x2="573.85" y1="838.2" y2="1457.7" stroke="#fff" stroke-width="1.15"/><line x1="584.49" x2="584.49" y1="838.2" y2="1457.7" stroke="#fff" stroke-width="1.15"/><line x1="46.25" x2="590.6" y1="1429.8" y2="1429.8" stroke="#fff" stroke-width="1.8"/><line x1="46.25" x2="590.6" y1="1223" y2="1223" stroke="#fff" stroke-width="1.8"/><line x1="46.25" x2="590.6" y1="1016.2" y2="1016.2" stroke="#fff" stroke-width="1.8"/><line x1="73.65" x2="73.65" y1="838.2" y2="1457.7" stroke="#fff" stroke-width="1.8"/><line x1="94.94" x2="94.94" y1="838.2" y2="1457.7" stroke="#fff" stroke-width="1.8"/><line x1="116.22" x2="116.22" y1="838.2" y2="1457.7" stroke="#fff" stroke-width="1.8"/><line x1="137.5" x2="137.5" y1="838.2" y2="1457.7" stroke="#fff" stroke-width="1.8"/><line x1="158.79" x2="158.79" y1="838.2" y2="1457.7" stroke="#fff" stroke-width="1.8"/><line x1="180.07" x2="180.07" y1="838.2" y2="1457.7" stroke="#fff" stroke-width="1.8"/><line x1="201.36" x2="201.36" y1="838.2" y2="1457.7" stroke="#fff" stroke-width="1.8"/><line x1="222.65" x2="222.65" y1="838.2" y2="1457.7" stroke="#fff" stroke-width="1.8"/><line x1="243.93" x2="243.93" y1="838.2" y2="1457.7" stroke="#fff" stroke-width="1.8"/><line x1="265.22" x2="265.22" y1="838.2" y2="1457.7" stroke="#fff" stroke-width="1.8"/><line x1="286.5" x2="286.5" y1="838.2" y2="1457.7" stroke="#fff" stroke-width="1.8"/><line x1="307.78" x2="307.78" y1="838.2" y2="1457.7" stroke="#fff" stroke-width="1.8"/><line x1="329.07" x2="329.07" y1="838.2" y2="1457.7" stroke="#fff" stroke-width="1.8"/><line x1="350.36" x2="350.36" y1="838.2" y2="1457.7" stroke="#fff" stroke-width="1.8"/><line x1="371.64" x2="371.64" y1="838.2" y2="1457.7" stroke="#fff" stroke-width="1.8"/><line x1="392.92" x2="392.92" y1="838.2" y2="1457.7" stroke="#fff" stroke-width="1.8"/><line x1="414.21" x2="414.21" y1="838.2" y2="1457.7" stroke="#fff" stroke-width="1.8"/><line x1="435.5" x2="435.5" y1="838.2" y2="1457.7" stroke="#fff" stroke-width="1.8"/><line x1="456.78" x2="456.78" y1="838.2" y2="1457.7" stroke="#fff" stroke-width="1.8"/><line x1="478.07" x2="478.07" y1="838.2" y2="1457.7" stroke="#fff" stroke-width="1.8"/><line x1="499.35" x2="499.35" y1="838.2" y2="1457.7" stroke="#fff" stroke-width="1.8"/><line x1="520.63" x2="520.63" y1="838.2" y2="1457.7" stroke="#fff" stroke-width="1.8"/><line x1="541.92" x2="541.92" y1="838.2" y2="1457.7" stroke="#fff" stroke-width="1.8"/><line x1="563.21" x2="563.21" y1="838.2" y2="1457.7" stroke="#fff" stroke-width="1.8"/><rect x="70.98" y="890.5" width="5.35" height="539.3" fill="#69b3a2"/><rect x="92.26" y="877.7" width="5.35" height="552.1" fill="#69b3a2"/><rect x="113.55" y="866.4" width="5.35" height="563.4" fill="#69b3a2"/><rect x="134.83" y="901.3" width="5.35" height="528.5" fill="#69b3a2"/><rect x="156.12" y="908.05" width="5.35" height="521.75" fill="#69b3a2"/><rect x="177.4" y="907.15" width="5.35" height="522.65" fill="#69b3a2"/><rect x="198.69" y="916.15" width="5.35" height="513.65" fill="#69b3a2"/><rect x="219.97" y="911.4" width="5.35" height="518.4" fill="#69b3a2"/><rect x="241.25" y="922.9" width="5.35" height="506.9" fill="#69b3a2"/><rect x="262.54" y="951.25" width="5.35" height="478.55" fill="#69b3a2"/><rect x="283.82" y="965.9" width="5.35" height="463.9" fill="#69b3a2"/><rect x="305.11" y="975.3" width="5.35" height="454.5" fill="#69b3a2"/><rect x="326.4" y="966.3" width="5.35" height="463.5" fill="#69b3a2"/><rect x="347.68" y="949" width="5.35" height="480.8" fill="#69b3a2"/><rect x="368.96" y="946.3" width="5.35" height="483.5" fill="#69b3a2"/><rect x="390.25" y="954.2" width="5.35" height="475.6" fill="#69b3a2"/><rect x="411.54" y="956.7" width="5.35" height="473.1" fill="#69b3a2"/><rect x="432.82" y="988" width="5.35" height="441.8" fill="#69b3a2"/><rect x="454.1" y="996" width="5.35" height="433.8" fill="#69b3a2"/><rect x="475.39" y="1011.1" width="5.35" height="418.7" fill="#69b3a2"/><rect x="496.68" y="1016.1" width="5.35" height="413.7" fill="#69b3a2"/><rect x="517.96" y="1020.4" width="5.35" height="409.4" fill="#69b3a2"/><rect x="539.25" y="995.2" width="5.35" height="434.6" fill="#69b3a2"/><rect x="560.53" y="971.1" width="5.35" height="458.7" fill="#69b3a2"/><path d="M73.65 833.3V838.2M73.65 1457.7V1462.6M94.94 833.3V838.2M94.94 1457.7V1462.6M116.22 833.3V838.2M116.22 1457.7V1462.6M137.5 833.3V838.2M137.5 1457.7V1462.6M158.79 833.3V838.2M158.79 1457.7V1462.6M180.07 833.3V838.2M180.07 1457.7V1462.6M201.36 833.3V838.2M201.36 1457.7V1462.6M222.65 833.3V838.2M222.65 1457.7V1462.6M243.93 833.3V838.2M243.93 1457.7V1462.6M265.22 833.3V838.2M265.22 1457.7V1462.6M286.5 833.3V838.2M286.5 1457.7V1462.6M307.78 833.3V838.2M307.78 1457.7V1462.6M329.07 833.3V838.2M329.07 1457.7V1462.6M350.36 833.3V838.2M350.36 1457.7V1462.6M371.64 833.3V838.2M371.64 1457.7V1462.6M392.92 833.3V838.2M392.92 1457.7V1462.6M414.21 833.3V838.2M414.21 1457.7V1462.6M435.5 833.3V838.2M435.5 1457.7V1462.6M456.78 833.3V838.2M456.78 1457.7V1462.6M478.07 833.3V838.2M478.07 1457.7V1462.6M499.35 833.3V838.2M499.35 1457.7V1462.6M520.63 833.3V838.2M520.63 1457.7V1462.6M541.92 833.3V838.2M541.92 1457.7V1462.6M563.21 833.3V838.2M563.21 1457.7V1462.6M41.35 1429.8H46.25M41.35 1223H46.25M41.35 1016.2H46.25" stroke="#333333" stroke-width="1.9" fill="none"/><g font-size="16.5" text-anchor="middle"><g transform="translate(73.65,830.4) scale(1,1.0)"><text>09</text></g><g transform="translate(73.65,1478.8) scale(1,1.0)"><text>00</text></g><g transform="translate(94.94,830.4) scale(1,1.0)"><text><tspan class="h">1</tspan>0</text><path class="o" d="M-3.45 0L-3.45 -11.35L-4.41 -11.35C-4.92 -9.61 -5.25 -9.37 -7.49 -9.09L-7.49 -8.09L-4.9 -8.09L-4.9 0Z"/></g><g transform="translate(94.94,1478.8) scale(1,1.0)"><text>0<tspan class="h">1</tspan></text><path class="o" d="M5.73 0L5.73 -11.35L4.77 -11.35C4.26 -9.61 3.93 -9.37 1.68 -9.09L1.68 -8.09L4.27 -8.09L4.27 0Z"/></g><g transform="translate(116.22,830.4) scale(1,1.0)"><text><tspan class="h">1</tspan><tspan class="h">1</tspan></text><path class="o" d="M-3.45 0L-3.45 -11.35L-4.41 -11.35C-4.92 -9.61 -5.25 -9.37 -7.49 -9.09L-7.49 -8.09L-4.9 -8.09L-4.9 0Z"/><path class="o" d="M5.73 0L5.73 -11.35L4.77 -11.35C4.26 -9.61 3.93 -9.37 1.68 -9.09L1.68 -8.09L4.27 -8.09L4.27 0Z"/></g><g transform="translate(116.22,1478.8) scale(1,1.0)"><text>02</text></g><g transform="translate(137.5,830.4) scale(1,1.0)"><text><tspan class="h">1</tspan>2</text><path class="o" d="M-3.45 0L-3.45 -11.35L-4.41 -11.35C-4.92 -9.61 -5.25 -9.37 -7.49 -9.09L-7.49 -8.09L-4.9 -8.09L-4.9 0Z"/></g><g transform="translate(137.5,1478.8) scale(1,1.0)"><text>03</text></g><g transform="translate(158.79,830.4) scale(1,1.0)"><text><tspan class="h">1</tspan>3</text><path class="o" d="M-3.45 0L-3.45 -11.35L-4.41 -11.35C-4.92 -9.61 -5.25 -9.37 -7.49 -9.09L-7.49 -8.09L-4.9 -8.09L-4.9 0Z"/></g><g transform="translate(158.79,1478.8) scale(1,1.0)"><text>04</text></g><g transform="translate(180.07,830.4) scale(1,1.0)"><text><tspan class="h">1</tspan>4</text><path class="o" d="M-3.45 0L-3.45 -11.35L-4.41 -11.35C-4.92 -9.61 -5.25 -9.37 -7.49 -9.09L-7.49 -8.09L-4.9 -8.09L-4.9 0Z"/></g><g transform="translate(180.07,1478.8) scale(1,1.0)"><text>05</text></g><g transform="translate(201.36,830.4) scale(1,1.0)"><text><tspan class="h">1</tspan>5</text><path class="o" d="M-3.45 0L-3.45 -11.35L-4.41 -11.35C-4.92 -9.61 -5.25 -9.37 -7.49 -9.09L-7.49 -8.09L-4.9 -8.09L-4.9 0Z"/></g><g transform="translate(201.36,1478.8) scale(1,1.0)"><text>06</text></g><g transform="translate(222.65,830.4) scale(1,1.0)"><text><tspan class="h">1</tspan>6</text><path class="o" d="M-3.45 0L-3.45 -11.35L-4.41 -11.35C-4.92 -9.61 -5.25 -9.37 -7.49 -9.09L-7.49 -8.09L-4.9 -8.09L-4.9 0Z"/></g><g transform="translate(222.65,1478.8) scale(1,1.0)"><text>07</text></g><g transform="translate(243.93,830.4) scale(1,1.0)"><text><tspan class="h">1</tspan>7</text><path class="o" d="M-3.45 0L-3.45 -11.35L-4.41 -11.35C-4.92 -9.61 -5.25 -9.37 -7.49 -9.09L-7.49 -8.09L-4.9 -8.09L-4.9 0Z"/></g><g transform="translate(243.93,1478.8) scale(1,1.0)"><text>08</text></g><g transform="translate(265.22,830.4) scale(1,1.0)"><text><tspan class="h">1</tspan>8</text><path class="o" d="M-3.45 0L-3.45 -11.35L-4.41 -11.35C-4.92 -9.61 -5.25 -9.37 -7.49 -9.09L-7.49 -8.09L-4.9 -8.09L-4.9 0Z"/></g><g transform="translate(265.22,1478.8) scale(1,1.0)"><text>09</text></g><g transform="translate(286.5,830.4) scale(1,1.0)"><text><tspan class="h">1</tspan>9</text><path class="o" d="M-3.45 0L-3.45 -11.35L-4.41 -11.35C-4.92 -9.61 -5.25 -9.37 -7.49 -9.09L-7.49 -8.09L-4.9 -8.09L-4.9 0Z"/></g><g transform="translate(286.5,1478.8) scale(1,1.0)"><text><tspan class="h">1</tspan>0</text><path class="o" d="M-3.45 0L-3.45 -11.35L-4.41 -11.35C-4.92 -9.61 -5.25 -9.37 -7.49 -9.09L-7.49 -8.09L-4.9 -8.09L-4.9 0Z"/></g><g transform="translate(307.78,830.4) scale(1,1.0)"><text>20</text></g><g transform="translate(307.78,1478.8) scale(1,1.0)"><text><tspan class="h">1</tspan><tspan class="h">1</tspan></text><path class="o" d="M-3.45 0L-3.45 -11.35L-4.41 -11.35C-4.92 -9.61 -5.25 -9.37 -7.49 -9.09L-7.49 -8.09L-4.9 -8.09L-4.9 0Z"/><path class="o" d="M5.73 0L5.73 -11.35L4.77 -11.35C4.26 -9.61 3.93 -9.37 1.68 -9.09L1.68 -8.09L4.27 -8.09L4.27 0Z"/></g><g transform="translate(329.07,830.4) scale(1,1.0)"><text>2<tspan class="h">1</tspan></text><path class="o" d="M5.73 0L5.73 -11.35L4.77 -11.35C4.26 -9.61 3.93 -9.37 1.68 -9.09L1.68 -8.09L4.27 -8.09L4.27 0Z"/></g><g transform="translate(329.07,1478.8) scale(1,1.0)"><text><tspan class="h">1</tspan>2</text><path class="o" d="M-3.45 0L-3.45 -11.35L-4.41 -11.35C-4.92 -9.61 -5.25 -9.37 -7.49 -9.09L-7.49 -8.09L-4.9 -8.09L-4.9 0Z"/></g><g transform="translate(350.36,830.4) scale(1,1.0)"><text>22</text></g><g transform="translate(350.36,1478.8) scale(1,1.0)"><text><tspan class="h">1</tspan>3</text><path class="o" d="M-3.45 0L-3.45 -11.35L-4.41 -11.35C-4.92 -9.61 -5.25 -9.37 -7.49 -9.09L-7.49 -8.09L-4.9 -8.09L-4.9 0Z"/></g><g transform="translate(371.64,830.4) scale(1,1.0)"><text>23</text></g><g transform="translate(371.64,1478.8) scale(1,1.0)"><text><tspan class="h">1</tspan>4</text><path class="o" d="M-3.45 0L-3.45 -11.35L-4.41 -11.35C-4.92 -9.61 -5.25 -9.37 -7.49 -9.09L-7.49 -8.09L-4.9 -8.09L-4.9 0Z"/></g><g transform="translate(392.92,830.4) scale(1,1.0)"><text>00</text></g><g transform="translate(392.92,1478.8) scale(1,1.0)"><text><tspan class="h">1</tspan>5</text><path class="o" d="M-3.45 0L-3.45 -11.35L-4.41 -11.35C-4.92 -9.61 -5.25 -9.37 -7.49 -9.09L-7.49 -8.09L-4.9 -8.09L-4.9 0Z"/></g><g transform="translate(414.21,830.4) scale(1,1.0)"><text>0<tspan class="h">1</tspan></text><path class="o" d="M5.73 0L5.73 -11.35L4.77 -11.35C4.26 -9.61 3.93 -9.37 1.68 -9.09L1.68 -8.09L4.27 -8.09L4.27 0Z"/></g><g transform="translate(414.21,1478.8) scale(1,1.0)"><text><tspan class="h">1</tspan>6</text><path class="o" d="M-3.45 0L-3.45 -11.35L-4.41 -11.35C-4.92 -9.61 -5.25 -9.37 -7.49 -9.09L-7.49 -8.09L-4.9 -8.09L-4.9 0Z"/></g><g transform="translate(435.5,830.4) scale(1,1.0)"><text>02</text></g><g transform="translate(435.5,1478.8) scale(1,1.0)"><text><tspan class="h">1</tspan>7</text><path class="o" d="M-3.45 0L-3.45 -11.35L-4.41 -11.35C-4.92 -9.61 -5.25 -9.37 -7.49 -9.09L-7.49 -8.09L-4.9 -8.09L-4.9 0Z"/></g><g transform="translate(456.78,830.4) scale(1,1.0)"><text>03</text></g><g transform="translate(456.78,1478.8) scale(1,1.0)"><text><tspan class="h">1</tspan>8</text><path class="o" d="M-3.45 0L-3.45 -11.35L-4.41 -11.35C-4.92 -9.61 -5.25 -9.37 -7.49 -9.09L-7.49 -8.09L-4.9 -8.09L-4.9 0Z"/></g><g transform="translate(478.07,830.4) scale(1,1.0)"><text>04</text></g><g transform="translate(478.07,1478.8) scale(1,1.0)"><text><tspan class="h">1</tspan>9</text><path class="o" d="M-3.45 0L-3.45 -11.35L-4.41 -11.35C-4.92 -9.61 -5.25 -9.37 -7.49 -9.09L-7.49 -8.09L-4.9 -8.09L-4.9 0Z"/></g><g transform="translate(499.35,830.4) scale(1,1.0)"><text>05</text></g><g transform="translate(499.35,1478.8) scale(1,1.0)"><text>20</text></g><g transform="translate(520.63,830.4) scale(1,1.0)"><text>06</text></g><g transform="translate(520.63,1478.8) scale(1,1.0)"><text>2<tspan class="h">1</tspan></text><path class="o" d="M5.73 0L5.73 -11.35L4.77 -11.35C4.26 -9.61 3.93 -9.37 1.68 -9.09L1.68 -8.09L4.27 -8.09L4.27 0Z"/></g><g transform="translate(541.92,830.4) scale(1,1.0)"><text>07</text></g><g transform="translate(541.92,1478.8) scale(1,1.0)"><text>22</text></g><g transform="translate(563.21,830.4) scale(1,1.0)"><text>08</text></g><g transform="translate(563.21,1478.8) scale(1,1.0)"><text>23</text></g></g><g font-size="18.45" text-anchor="middle"><text transform="translate(318.43,810.1) scale(1,1.044)">JST hour</text><text transform="translate(318.43,1500.2) scale(1,1.044)">GMT hour</text></g><g font-size="15.1" text-anchor="end"><g transform="translate(36.65,1430.2) rotate(-90) scale(1,1.035)"><text>0</text></g><g transform="translate(36.65,1223.4) rotate(-90) scale(1,1.035)"><text><tspan class="h">1</tspan>00</text><path class="o" d="M-19.95 0L-19.95 -10.39L-20.83 -10.39C-21.3 -8.79 -21.6 -8.57 -23.65 -8.32L-23.65 -7.4L-21.28 -7.4L-21.28 0Z"/></g><g transform="translate(36.65,1016.6) rotate(-90) scale(1,1.035)"><text>200</text></g></g><text font-size="20.2" text-anchor="middle" transform="translate(14.95,1147.95) rotate(-90) scale(1,1.044)">Mean hourly volume (BTC)</text></g><g><rect x="655.25" y="838.2" width="544.35" height="619.5" fill="#ebebeb"/><line x1="655.25" x2="1199.6" y1="1341.7" y2="1341.7" stroke="#fff" stroke-width="1.15"/><line x1="655.25" x2="1199.6" y1="1165.5" y2="1165.5" stroke="#fff" stroke-width="1.15"/><line x1="655.25" x2="1199.6" y1="989.3" y2="989.3" stroke="#fff" stroke-width="1.15"/><line x1="661.37" x2="661.37" y1="838.2" y2="1457.7" stroke="#fff" stroke-width="1.15"/><line x1="672.01" x2="672.01" y1="838.2" y2="1457.7" stroke="#fff" stroke-width="1.15"/><line x1="693.29" x2="693.29" y1="838.2" y2="1457.7" stroke="#fff" stroke-width="1.15"/><line x1="714.58" x2="714.58" y1="838.2" y2="1457.7" stroke="#fff" stroke-width="1.15"/><line x1="735.86" x2="735.86" y1="838.2" y2="1457.7" stroke="#fff" stroke-width="1.15"/><line x1="757.15" x2="757.15" y1="838.2" y2="1457.7" stroke="#fff" stroke-width="1.15"/><line x1="778.43" x2="778.43" y1="838.2" y2="1457.7" stroke="#fff" stroke-width="1.15"/><line x1="799.72" x2="799.72" y1="838.2" y2="1457.7" stroke="#fff" stroke-width="1.15"/><line x1="821" x2="821" y1="838.2" y2="1457.7" stroke="#fff" stroke-width="1.15"/><line x1="842.29" x2="842.29" y1="838.2" y2="1457.7" stroke="#fff" stroke-width="1.15"/><line x1="863.57" x2="863.57" y1="838.2" y2="1457.7" stroke="#fff" stroke-width="1.15"/><line x1="884.86" x2="884.86" y1="838.2" y2="1457.7" stroke="#fff" stroke-width="1.15"/><line x1="906.14" x2="906.14" y1="838.2" y2="1457.7" stroke="#fff" stroke-width="1.15"/><line x1="927.43" x2="927.43" y1="838.2" y2="1457.7" stroke="#fff" stroke-width="1.15"/><line x1="948.71" x2="948.71" y1="838.2" y2="1457.7" stroke="#fff" stroke-width="1.15"/><line x1="970" x2="970" y1="838.2" y2="1457.7" stroke="#fff" stroke-width="1.15"/><line x1="991.28" x2="991.28" y1="838.2" y2="1457.7" stroke="#fff" stroke-width="1.15"/><line x1="1012.57" x2="1012.57" y1="838.2" y2="1457.7" stroke="#fff" stroke-width="1.15"/><line x1="1033.85" x2="1033.85" y1="838.2" y2="1457.7" stroke="#fff" stroke-width="1.15"/><line x1="1055.14" x2="1055.14" y1="838.2" y2="1457.7" stroke="#fff" stroke-width="1.15"/><line x1="1076.42" x2="1076.42" y1="838.2" y2="1457.7" stroke="#fff" stroke-width="1.15"/><line x1="1097.71" x2="1097.71" y1="838.2" y2="1457.7" stroke="#fff" stroke-width="1.15"/><line x1="1118.99" x2="1118.99" y1="838.2" y2="1457.7" stroke="#fff" stroke-width="1.15"/><line x1="1140.28" x2="1140.28" y1="838.2" y2="1457.7" stroke="#fff" stroke-width="1.15"/><line x1="1161.56" x2="1161.56" y1="838.2" y2="1457.7" stroke="#fff" stroke-width="1.15"/><line x1="1182.85" x2="1182.85" y1="838.2" y2="1457.7" stroke="#fff" stroke-width="1.15"/><line x1="1193.49" x2="1193.49" y1="838.2" y2="1457.7" stroke="#fff" stroke-width="1.15"/><line x1="655.25" x2="1199.6" y1="1429.8" y2="1429.8" stroke="#fff" stroke-width="1.8"/><line x1="655.25" x2="1199.6" y1="1253.6" y2="1253.6" stroke="#fff" stroke-width="1.8"/><line x1="655.25" x2="1199.6" y1="1077.4" y2="1077.4" stroke="#fff" stroke-width="1.8"/><line x1="655.25" x2="1199.6" y1="901.2" y2="901.2" stroke="#fff" stroke-width="1.8"/><line x1="682.65" x2="682.65" y1="838.2" y2="1457.7" stroke="#fff" stroke-width="1.8"/><line x1="703.93" x2="703.93" y1="838.2" y2="1457.7" stroke="#fff" stroke-width="1.8"/><line x1="725.22" x2="725.22" y1="838.2" y2="1457.7" stroke="#fff" stroke-width="1.8"/><line x1="746.5" x2="746.5" y1="838.2" y2="1457.7" stroke="#fff" stroke-width="1.8"/><line x1="767.79" x2="767.79" y1="838.2" y2="1457.7" stroke="#fff" stroke-width="1.8"/><line x1="789.07" x2="789.07" y1="838.2" y2="1457.7" stroke="#fff" stroke-width="1.8"/><line x1="810.36" x2="810.36" y1="838.2" y2="1457.7" stroke="#fff" stroke-width="1.8"/><line x1="831.64" x2="831.64" y1="838.2" y2="1457.7" stroke="#fff" stroke-width="1.8"/><line x1="852.93" x2="852.93" y1="838.2" y2="1457.7" stroke="#fff" stroke-width="1.8"/><line x1="874.21" x2="874.21" y1="838.2" y2="1457.7" stroke="#fff" stroke-width="1.8"/><line x1="895.5" x2="895.5" y1="838.2" y2="1457.7" stroke="#fff" stroke-width="1.8"/><line x1="916.78" x2="916.78" y1="838.2" y2="1457.7" stroke="#fff" stroke-width="1.8"/><line x1="938.07" x2="938.07" y1="838.2" y2="1457.7" stroke="#fff" stroke-width="1.8"/><line x1="959.36" x2="959.36" y1="838.2" y2="1457.7" stroke="#fff" stroke-width="1.8"/><line x1="980.64" x2="980.64" y1="838.2" y2="1457.7" stroke="#fff" stroke-width="1.8"/><line x1="1001.92" x2="1001.92" y1="838.2" y2="1457.7" stroke="#fff" stroke-width="1.8"/><line x1="1023.21" x2="1023.21" y1="838.2" y2="1457.7" stroke="#fff" stroke-width="1.8"/><line x1="1044.49" x2="1044.49" y1="838.2" y2="1457.7" stroke="#fff" stroke-width="1.8"/><line x1="1065.78" x2="1065.78" y1="838.2" y2="1457.7" stroke="#fff" stroke-width="1.8"/><line x1="1087.07" x2="1087.07" y1="838.2" y2="1457.7" stroke="#fff" stroke-width="1.8"/><line x1="1108.35" x2="1108.35" y1="838.2" y2="1457.7" stroke="#fff" stroke-width="1.8"/><line x1="1129.63" x2="1129.63" y1="838.2" y2="1457.7" stroke="#fff" stroke-width="1.8"/><line x1="1150.92" x2="1150.92" y1="838.2" y2="1457.7" stroke="#fff" stroke-width="1.8"/><line x1="1172.2" x2="1172.2" y1="838.2" y2="1457.7" stroke="#fff" stroke-width="1.8"/><rect x="679.98" y="882.6" width="5.35" height="547.2" fill="#ff6347"/><rect x="701.26" y="869.8" width="5.35" height="560" fill="#ff6347"/><rect x="722.55" y="866.2" width="5.35" height="563.6" fill="#ff6347"/><rect x="743.83" y="872.95" width="5.35" height="556.85" fill="#ff6347"/><rect x="765.12" y="878.1" width="5.35" height="551.7" fill="#ff6347"/><rect x="786.4" y="879.9" width="5.35" height="549.9" fill="#ff6347"/><rect x="807.69" y="882.2" width="5.35" height="547.6" fill="#ff6347"/><rect x="828.97" y="889.4" width="5.35" height="540.4" fill="#ff6347"/><rect x="850.25" y="902.65" width="5.35" height="527.15" fill="#ff6347"/><rect x="871.54" y="898.15" width="5.35" height="531.65" fill="#ff6347"/><rect x="892.83" y="909.6" width="5.35" height="520.2" fill="#ff6347"/><rect x="914.11" y="906.25" width="5.35" height="523.55" fill="#ff6347"/><rect x="935.39" y="909.7" width="5.35" height="520.1" fill="#ff6347"/><rect x="956.68" y="913.9" width="5.35" height="515.9" fill="#ff6347"/><rect x="977.97" y="906.7" width="5.35" height="523.1" fill="#ff6347"/><rect x="999.25" y="906.7" width="5.35" height="523.1" fill="#ff6347"/><rect x="1020.54" y="895.2" width="5.35" height="534.6" fill="#ff6347"/><rect x="1041.82" y="886" width="5.35" height="543.8" fill="#ff6347"/><rect x="1063.11" y="889.15" width="5.35" height="540.65" fill="#ff6347"/><rect x="1084.39" y="913" width="5.35" height="516.8" fill="#ff6347"/><rect x="1105.67" y="895" width="5.35" height="534.8" fill="#ff6347"/><rect x="1126.96" y="897.25" width="5.35" height="532.55" fill="#ff6347"/><rect x="1148.25" y="897.9" width="5.35" height="531.9" fill="#ff6347"/><rect x="1169.53" y="897.5" width="5.35" height="532.3" fill="#ff6347"/><path d="M682.65 833.3V838.2M682.65 1457.7V1462.6M703.93 833.3V838.2M703.93 1457.7V1462.6M725.22 833.3V838.2M725.22 1457.7V1462.6M746.5 833.3V838.2M746.5 1457.7V1462.6M767.79 833.3V838.2M767.79 1457.7V1462.6M789.07 833.3V838.2M789.07 1457.7V1462.6M810.36 833.3V838.2M810.36 1457.7V1462.6M831.64 833.3V838.2M831.64 1457.7V1462.6M852.93 833.3V838.2M852.93 1457.7V1462.6M874.21 833.3V838.2M874.21 1457.7V1462.6M895.5 833.3V838.2M895.5 1457.7V1462.6M916.78 833.3V838.2M916.78 1457.7V1462.6M938.07 833.3V838.2M938.07 1457.7V1462.6M959.36 833.3V838.2M959.36 1457.7V1462.6M980.64 833.3V838.2M980.64 1457.7V1462.6M1001.92 833.3V838.2M1001.92 1457.7V1462.6M1023.21 833.3V838.2M1023.21 1457.7V1462.6M1044.49 833.3V838.2M1044.49 1457.7V1462.6M1065.78 833.3V838.2M1065.78 1457.7V1462.6M1087.07 833.3V838.2M1087.07 1457.7V1462.6M1108.35 833.3V838.2M1108.35 1457.7V1462.6M1129.63 833.3V838.2M1129.63 1457.7V1462.6M1150.92 833.3V838.2M1150.92 1457.7V1462.6M1172.2 833.3V838.2M1172.2 1457.7V1462.6M650.35 1429.8H655.25M650.35 1253.6H655.25M650.35 1077.4H655.25M650.35 901.2H655.25" stroke="#333333" stroke-width="1.9" fill="none"/><g font-size="16.5" text-anchor="middle"><g transform="translate(682.65,830.4) scale(1,1.0)"><text>09</text></g><g transform="translate(682.65,1478.8) scale(1,1.0)"><text>00</text></g><g transform="translate(703.93,830.4) scale(1,1.0)"><text><tspan class="h">1</tspan>0</text><path class="o" d="M-3.45 0L-3.45 -11.35L-4.41 -11.35C-4.92 -9.61 -5.25 -9.37 -7.49 -9.09L-7.49 -8.09L-4.9 -8.09L-4.9 0Z"/></g><g transform="translate(703.93,1478.8) scale(1,1.0)"><text>0<tspan class="h">1</tspan></text><path class="o" d="M5.73 0L5.73 -11.35L4.77 -11.35C4.26 -9.61 3.93 -9.37 1.68 -9.09L1.68 -8.09L4.27 -8.09L4.27 0Z"/></g><g transform="translate(725.22,830.4) scale(1,1.0)"><text><tspan class="h">1</tspan><tspan class="h">1</tspan></text><path class="o" d="M-3.45 0L-3.45 -11.35L-4.41 -11.35C-4.92 -9.61 -5.25 -9.37 -7.49 -9.09L-7.49 -8.09L-4.9 -8.09L-4.9 0Z"/><path class="o" d="M5.73 0L5.73 -11.35L4.77 -11.35C4.26 -9.61 3.93 -9.37 1.68 -9.09L1.68 -8.09L4.27 -8.09L4.27 0Z"/></g><g transform="translate(725.22,1478.8) scale(1,1.0)"><text>02</text></g><g transform="translate(746.5,830.4) scale(1,1.0)"><text><tspan class="h">1</tspan>2</text><path class="o" d="M-3.45 0L-3.45 -11.35L-4.41 -11.35C-4.92 -9.61 -5.25 -9.37 -7.49 -9.09L-7.49 -8.09L-4.9 -8.09L-4.9 0Z"/></g><g transform="translate(746.5,1478.8) scale(1,1.0)"><text>03</text></g><g transform="translate(767.79,830.4) scale(1,1.0)"><text><tspan class="h">1</tspan>3</text><path class="o" d="M-3.45 0L-3.45 -11.35L-4.41 -11.35C-4.92 -9.61 -5.25 -9.37 -7.49 -9.09L-7.49 -8.09L-4.9 -8.09L-4.9 0Z"/></g><g transform="translate(767.79,1478.8) scale(1,1.0)"><text>04</text></g><g transform="translate(789.07,830.4) scale(1,1.0)"><text><tspan class="h">1</tspan>4</text><path class="o" d="M-3.45 0L-3.45 -11.35L-4.41 -11.35C-4.92 -9.61 -5.25 -9.37 -7.49 -9.09L-7.49 -8.09L-4.9 -8.09L-4.9 0Z"/></g><g transform="translate(789.07,1478.8) scale(1,1.0)"><text>05</text></g><g transform="translate(810.36,830.4) scale(1,1.0)"><text><tspan class="h">1</tspan>5</text><path class="o" d="M-3.45 0L-3.45 -11.35L-4.41 -11.35C-4.92 -9.61 -5.25 -9.37 -7.49 -9.09L-7.49 -8.09L-4.9 -8.09L-4.9 0Z"/></g><g transform="translate(810.36,1478.8) scale(1,1.0)"><text>06</text></g><g transform="translate(831.64,830.4) scale(1,1.0)"><text><tspan class="h">1</tspan>6</text><path class="o" d="M-3.45 0L-3.45 -11.35L-4.41 -11.35C-4.92 -9.61 -5.25 -9.37 -7.49 -9.09L-7.49 -8.09L-4.9 -8.09L-4.9 0Z"/></g><g transform="translate(831.64,1478.8) scale(1,1.0)"><text>07</text></g><g transform="translate(852.93,830.4) scale(1,1.0)"><text><tspan class="h">1</tspan>7</text><path class="o" d="M-3.45 0L-3.45 -11.35L-4.41 -11.35C-4.92 -9.61 -5.25 -9.37 -7.49 -9.09L-7.49 -8.09L-4.9 -8.09L-4.9 0Z"/></g><g transform="translate(852.93,1478.8) scale(1,1.0)"><text>08</text></g><g transform="translate(874.21,830.4) scale(1,1.0)"><text><tspan class="h">1</tspan>8</text><path class="o" d="M-3.45 0L-3.45 -11.35L-4.41 -11.35C-4.92 -9.61 -5.25 -9.37 -7.49 -9.09L-7.49 -8.09L-4.9 -8.09L-4.9 0Z"/></g><g transform="translate(874.21,1478.8) scale(1,1.0)"><text>09</text></g><g transform="translate(895.5,830.4) scale(1,1.0)"><text><tspan class="h">1</tspan>9</text><path class="o" d="M-3.45 0L-3.45 -11.35L-4.41 -11.35C-4.92 -9.61 -5.25 -9.37 -7.49 -9.09L-7.49 -8.09L-4.9 -8.09L-4.9 0Z"/></g><g transform="translate(895.5,1478.8) scale(1,1.0)"><text><tspan class="h">1</tspan>0</text><path class="o" d="M-3.45 0L-3.45 -11.35L-4.41 -11.35C-4.92 -9.61 -5.25 -9.37 -7.49 -9.09L-7.49 -8.09L-4.9 -8.09L-4.9 0Z"/></g><g transform="translate(916.78,830.4) scale(1,1.0)"><text>20</text></g><g transform="translate(916.78,1478.8) scale(1,1.0)"><text><tspan class="h">1</tspan><tspan class="h">1</tspan></text><path class="o" d="M-3.45 0L-3.45 -11.35L-4.41 -11.35C-4.92 -9.61 -5.25 -9.37 -7.49 -9.09L-7.49 -8.09L-4.9 -8.09L-4.9 0Z"/><path class="o" d="M5.73 0L5.73 -11.35L4.77 -11.35C4.26 -9.61 3.93 -9.37 1.68 -9.09L1.68 -8.09L4.27 -8.09L4.27 0Z"/></g><g transform="translate(938.07,830.4) scale(1,1.0)"><text>2<tspan class="h">1</tspan></text><path class="o" d="M5.73 0L5.73 -11.35L4.77 -11.35C4.26 -9.61 3.93 -9.37 1.68 -9.09L1.68 -8.09L4.27 -8.09L4.27 0Z"/></g><g transform="translate(938.07,1478.8) scale(1,1.0)"><text><tspan class="h">1</tspan>2</text><path class="o" d="M-3.45 0L-3.45 -11.35L-4.41 -11.35C-4.92 -9.61 -5.25 -9.37 -7.49 -9.09L-7.49 -8.09L-4.9 -8.09L-4.9 0Z"/></g><g transform="translate(959.36,830.4) scale(1,1.0)"><text>22</text></g><g transform="translate(959.36,1478.8) scale(1,1.0)"><text><tspan class="h">1</tspan>3</text><path class="o" d="M-3.45 0L-3.45 -11.35L-4.41 -11.35C-4.92 -9.61 -5.25 -9.37 -7.49 -9.09L-7.49 -8.09L-4.9 -8.09L-4.9 0Z"/></g><g transform="translate(980.64,830.4) scale(1,1.0)"><text>23</text></g><g transform="translate(980.64,1478.8) scale(1,1.0)"><text><tspan class="h">1</tspan>4</text><path class="o" d="M-3.45 0L-3.45 -11.35L-4.41 -11.35C-4.92 -9.61 -5.25 -9.37 -7.49 -9.09L-7.49 -8.09L-4.9 -8.09L-4.9 0Z"/></g><g transform="translate(1001.92,830.4) scale(1,1.0)"><text>00</text></g><g transform="translate(1001.92,1478.8) scale(1,1.0)"><text><tspan class="h">1</tspan>5</text><path class="o" d="M-3.45 0L-3.45 -11.35L-4.41 -11.35C-4.92 -9.61 -5.25 -9.37 -7.49 -9.09L-7.49 -8.09L-4.9 -8.09L-4.9 0Z"/></g><g transform="translate(1023.21,830.4) scale(1,1.0)"><text>0<tspan class="h">1</tspan></text><path class="o" d="M5.73 0L5.73 -11.35L4.77 -11.35C4.26 -9.61 3.93 -9.37 1.68 -9.09L1.68 -8.09L4.27 -8.09L4.27 0Z"/></g><g transform="translate(1023.21,1478.8) scale(1,1.0)"><text><tspan class="h">1</tspan>6</text><path class="o" d="M-3.45 0L-3.45 -11.35L-4.41 -11.35C-4.92 -9.61 -5.25 -9.37 -7.49 -9.09L-7.49 -8.09L-4.9 -8.09L-4.9 0Z"/></g><g transform="translate(1044.49,830.4) scale(1,1.0)"><text>02</text></g><g transform="translate(1044.49,1478.8) scale(1,1.0)"><text><tspan class="h">1</tspan>7</text><path class="o" d="M-3.45 0L-3.45 -11.35L-4.41 -11.35C-4.92 -9.61 -5.25 -9.37 -7.49 -9.09L-7.49 -8.09L-4.9 -8.09L-4.9 0Z"/></g><g transform="translate(1065.78,830.4) scale(1,1.0)"><text>03</text></g><g transform="translate(1065.78,1478.8) scale(1,1.0)"><text><tspan class="h">1</tspan>8</text><path class="o" d="M-3.45 0L-3.45 -11.35L-4.41 -11.35C-4.92 -9.61 -5.25 -9.37 -7.49 -9.09L-7.49 -8.09L-4.9 -8.09L-4.9 0Z"/></g><g transform="translate(1087.07,830.4) scale(1,1.0)"><text>04</text></g><g transform="translate(1087.07,1478.8) scale(1,1.0)"><text><tspan class="h">1</tspan>9</text><path class="o" d="M-3.45 0L-3.45 -11.35L-4.41 -11.35C-4.92 -9.61 -5.25 -9.37 -7.49 -9.09L-7.49 -8.09L-4.9 -8.09L-4.9 0Z"/></g><g transform="translate(1108.35,830.4) scale(1,1.0)"><text>05</text></g><g transform="translate(1108.35,1478.8) scale(1,1.0)"><text>20</text></g><g transform="translate(1129.63,830.4) scale(1,1.0)"><text>06</text></g><g transform="translate(1129.63,1478.8) scale(1,1.0)"><text>2<tspan class="h">1</tspan></text><path class="o" d="M5.73 0L5.73 -11.35L4.77 -11.35C4.26 -9.61 3.93 -9.37 1.68 -9.09L1.68 -8.09L4.27 -8.09L4.27 0Z"/></g><g transform="translate(1150.92,830.4) scale(1,1.0)"><text>07</text></g><g transform="translate(1150.92,1478.8) scale(1,1.0)"><text>22</text></g><g transform="translate(1172.2,830.4) scale(1,1.0)"><text>08</text></g><g transform="translate(1172.2,1478.8) scale(1,1.0)"><text>23</text></g></g><g font-size="18.45" text-anchor="middle"><text transform="translate(927.42,810.1) scale(1,1.044)">JST hour</text><text transform="translate(927.42,1500.2) scale(1,1.044)">GMT hour</text></g><g font-size="15.1" text-anchor="end"><g transform="translate(645.65,1430.2) rotate(-90) scale(1,1.035)"><text>0</text></g><g transform="translate(645.65,1254) rotate(-90) scale(1,1.035)"><text>200</text></g><g transform="translate(645.65,1077.8) rotate(-90) scale(1,1.035)"><text>400</text></g><g transform="translate(645.65,901.6) rotate(-90) scale(1,1.035)"><text>600</text></g></g><text font-size="20.2" text-anchor="middle" transform="translate(623.95,1147.95) rotate(-90) scale(1,1.044)">Mean hourly counts</text></g><g><rect x="46.25" y="1632.5" width="544.35" height="619.5" fill="#ebebeb"/><line x1="46.25" x2="590.6" y1="2129.65" y2="2129.65" stroke="#fff" stroke-width="1.15"/><line x1="46.25" x2="590.6" y1="1940.55" y2="1940.55" stroke="#fff" stroke-width="1.15"/><line x1="46.25" x2="590.6" y1="1751.45" y2="1751.45" stroke="#fff" stroke-width="1.15"/><line x1="52.37" x2="52.37" y1="1632.5" y2="2252" stroke="#fff" stroke-width="1.15"/><line x1="63.01" x2="63.01" y1="1632.5" y2="2252" stroke="#fff" stroke-width="1.15"/><line x1="84.29" x2="84.29" y1="1632.5" y2="2252" stroke="#fff" stroke-width="1.15"/><line x1="105.58" x2="105.58" y1="1632.5" y2="2252" stroke="#fff" stroke-width="1.15"/><line x1="126.86" x2="126.86" y1="1632.5" y2="2252" stroke="#fff" stroke-width="1.15"/><line x1="148.15" x2="148.15" y1="1632.5" y2="2252" stroke="#fff" stroke-width="1.15"/><line x1="169.43" x2="169.43" y1="1632.5" y2="2252" stroke="#fff" stroke-width="1.15"/><line x1="190.72" x2="190.72" y1="1632.5" y2="2252" stroke="#fff" stroke-width="1.15"/><line x1="212" x2="212" y1="1632.5" y2="2252" stroke="#fff" stroke-width="1.15"/><line x1="233.29" x2="233.29" y1="1632.5" y2="2252" stroke="#fff" stroke-width="1.15"/><line x1="254.57" x2="254.57" y1="1632.5" y2="2252" stroke="#fff" stroke-width="1.15"/><line x1="275.86" x2="275.86" y1="1632.5" y2="2252" stroke="#fff" stroke-width="1.15"/><line x1="297.14" x2="297.14" y1="1632.5" y2="2252" stroke="#fff" stroke-width="1.15"/><line x1="318.43" x2="318.43" y1="1632.5" y2="2252" stroke="#fff" stroke-width="1.15"/><line x1="339.71" x2="339.71" y1="1632.5" y2="2252" stroke="#fff" stroke-width="1.15"/><line x1="361" x2="361" y1="1632.5" y2="2252" stroke="#fff" stroke-width="1.15"/><line x1="382.28" x2="382.28" y1="1632.5" y2="2252" stroke="#fff" stroke-width="1.15"/><line x1="403.57" x2="403.57" y1="1632.5" y2="2252" stroke="#fff" stroke-width="1.15"/><line x1="424.85" x2="424.85" y1="1632.5" y2="2252" stroke="#fff" stroke-width="1.15"/><line x1="446.14" x2="446.14" y1="1632.5" y2="2252" stroke="#fff" stroke-width="1.15"/><line x1="467.42" x2="467.42" y1="1632.5" y2="2252" stroke="#fff" stroke-width="1.15"/><line x1="488.71" x2="488.71" y1="1632.5" y2="2252" stroke="#fff" stroke-width="1.15"/><line x1="509.99" x2="509.99" y1="1632.5" y2="2252" stroke="#fff" stroke-width="1.15"/><line x1="531.28" x2="531.28" y1="1632.5" y2="2252" stroke="#fff" stroke-width="1.15"/><line x1="552.56" x2="552.56" y1="1632.5" y2="2252" stroke="#fff" stroke-width="1.15"/><line x1="573.85" x2="573.85" y1="1632.5" y2="2252" stroke="#fff" stroke-width="1.15"/><line x1="584.49" x2="584.49" y1="1632.5" y2="2252" stroke="#fff" stroke-width="1.15"/><line x1="46.25" x2="590.6" y1="2224.2" y2="2224.2" stroke="#fff" stroke-width="1.8"/><line x1="46.25" x2="590.6" y1="2035.1" y2="2035.1" stroke="#fff" stroke-width="1.8"/><line x1="46.25" x2="590.6" y1="1846" y2="1846" stroke="#fff" stroke-width="1.8"/><line x1="46.25" x2="590.6" y1="1656.9" y2="1656.9" stroke="#fff" stroke-width="1.8"/><line x1="73.65" x2="73.65" y1="1632.5" y2="2252" stroke="#fff" stroke-width="1.8"/><line x1="94.94" x2="94.94" y1="1632.5" y2="2252" stroke="#fff" stroke-width="1.8"/><line x1="116.22" x2="116.22" y1="1632.5" y2="2252" stroke="#fff" stroke-width="1.8"/><line x1="137.5" x2="137.5" y1="1632.5" y2="2252" stroke="#fff" stroke-width="1.8"/><line x1="158.79" x2="158.79" y1="1632.5" y2="2252" stroke="#fff" stroke-width="1.8"/><line x1="180.07" x2="180.07" y1="1632.5" y2="2252" stroke="#fff" stroke-width="1.8"/><line x1="201.36" x2="201.36" y1="1632.5" y2="2252" stroke="#fff" stroke-width="1.8"/><line x1="222.65" x2="222.65" y1="1632.5" y2="2252" stroke="#fff" stroke-width="1.8"/><line x1="243.93" x2="243.93" y1="1632.5" y2="2252" stroke="#fff" stroke-width="1.8"/><line x1="265.22" x2="265.22" y1="1632.5" y2="2252" stroke="#fff" stroke-width="1.8"/><line x1="286.5" x2="286.5" y1="1632.5" y2="2252" stroke="#fff" stroke-width="1.8"/><line x1="307.78" x2="307.78" y1="1632.5" y2="2252" stroke="#fff" stroke-width="1.8"/><line x1="329.07" x2="329.07" y1="1632.5" y2="2252" stroke="#fff" stroke-width="1.8"/><line x1="350.36" x2="350.36" y1="1632.5" y2="2252" stroke="#fff" stroke-width="1.8"/><line x1="371.64" x2="371.64" y1="1632.5" y2="2252" stroke="#fff" stroke-width="1.8"/><line x1="392.92" x2="392.92" y1="1632.5" y2="2252" stroke="#fff" stroke-width="1.8"/><line x1="414.21" x2="414.21" y1="1632.5" y2="2252" stroke="#fff" stroke-width="1.8"/><line x1="435.5" x2="435.5" y1="1632.5" y2="2252" stroke="#fff" stroke-width="1.8"/><line x1="456.78" x2="456.78" y1="1632.5" y2="2252" stroke="#fff" stroke-width="1.8"/><line x1="478.07" x2="478.07" y1="1632.5" y2="2252" stroke="#fff" stroke-width="1.8"/><line x1="499.35" x2="499.35" y1="1632.5" y2="2252" stroke="#fff" stroke-width="1.8"/><line x1="520.63" x2="520.63" y1="1632.5" y2="2252" stroke="#fff" stroke-width="1.8"/><line x1="541.92" x2="541.92" y1="1632.5" y2="2252" stroke="#fff" stroke-width="1.8"/><line x1="563.21" x2="563.21" y1="1632.5" y2="2252" stroke="#fff" stroke-width="1.8"/><rect x="70.98" y="1687" width="5.35" height="537.2" fill="#69b3a2"/><rect x="92.26" y="1676" width="5.35" height="548.2" fill="#69b3a2"/><rect x="113.55" y="1707.25" width="5.35" height="516.95" fill="#69b3a2"/><rect x="134.83" y="1737" width="5.35" height="487.2" fill="#69b3a2"/><rect x="156.12" y="1744.15" width="5.35" height="480.05" fill="#69b3a2"/><rect x="177.4" y="1742.35" width="5.35" height="481.85" fill="#69b3a2"/><rect x="198.69" y="1759" width="5.35" height="465.2" fill="#69b3a2"/><rect x="219.97" y="1750.9" width="5.35" height="473.3" fill="#69b3a2"/><rect x="241.25" y="1721.9" width="5.35" height="502.3" fill="#69b3a2"/><rect x="262.54" y="1726.8" width="5.35" height="497.4" fill="#69b3a2"/><rect x="283.82" y="1713.8" width="5.35" height="510.4" fill="#69b3a2"/><rect x="305.11" y="1694.4" width="5.35" height="529.8" fill="#69b3a2"/><rect x="326.4" y="1679.8" width="5.35" height="544.4" fill="#69b3a2"/><rect x="347.68" y="1661.1" width="5.35" height="563.1" fill="#69b3a2"/><rect x="368.96" y="1663.8" width="5.35" height="560.4" fill="#69b3a2"/><rect x="390.25" y="1726.15" width="5.35" height="498.05" fill="#69b3a2"/><rect x="411.54" y="1761" width="5.35" height="463.2" fill="#69b3a2"/><rect x="432.82" y="1851" width="5.35" height="373.2" fill="#69b3a2"/><rect x="454.1" y="1911.1" width="5.35" height="313.1" fill="#69b3a2"/><rect x="475.39" y="1963" width="5.35" height="261.2" fill="#69b3a2"/><rect x="496.68" y="1888.6" width="5.35" height="335.6" fill="#69b3a2"/><rect x="517.96" y="1859.4" width="5.35" height="364.8" fill="#69b3a2"/><rect x="539.25" y="1815.5" width="5.35" height="408.7" fill="#69b3a2"/><rect x="560.53" y="1787.1" width="5.35" height="437.1" fill="#69b3a2"/><path d="M73.65 1627.6V1632.5M73.65 2252V2256.9M94.94 1627.6V1632.5M94.94 2252V2256.9M116.22 1627.6V1632.5M116.22 2252V2256.9M137.5 1627.6V1632.5M137.5 2252V2256.9M158.79 1627.6V1632.5M158.79 2252V2256.9M180.07 1627.6V1632.5M180.07 2252V2256.9M201.36 1627.6V1632.5M201.36 2252V2256.9M222.65 1627.6V1632.5M222.65 2252V2256.9M243.93 1627.6V1632.5M243.93 2252V2256.9M265.22 1627.6V1632.5M265.22 2252V2256.9M286.5 1627.6V1632.5M286.5 2252V2256.9M307.78 1627.6V1632.5M307.78 2252V2256.9M329.07 1627.6V1632.5M329.07 2252V2256.9M350.36 1627.6V1632.5M350.36 2252V2256.9M371.64 1627.6V1632.5M371.64 2252V2256.9M392.92 1627.6V1632.5M392.92 2252V2256.9M414.21 1627.6V1632.5M414.21 2252V2256.9M435.5 1627.6V1632.5M435.5 2252V2256.9M456.78 1627.6V1632.5M456.78 2252V2256.9M478.07 1627.6V1632.5M478.07 2252V2256.9M499.35 1627.6V1632.5M499.35 2252V2256.9M520.63 1627.6V1632.5M520.63 2252V2256.9M541.92 1627.6V1632.5M541.92 2252V2256.9M563.21 1627.6V1632.5M563.21 2252V2256.9M41.35 2224.2H46.25M41.35 2035.1H46.25M41.35 1846H46.25M41.35 1656.9H46.25" stroke="#333333" stroke-width="1.9" fill="none"/><g font-size="16.5" text-anchor="middle"><g transform="translate(73.65,1624.7) scale(1,1.0)"><text>09</text></g><g transform="translate(73.65,2273.1) scale(1,1.0)"><text>00</text></g><g transform="translate(94.94,1624.7) scale(1,1.0)"><text><tspan class="h">1</tspan>0</text><path class="o" d="M-3.45 0L-3.45 -11.35L-4.41 -11.35C-4.92 -9.61 -5.25 -9.37 -7.49 -9.09L-7.49 -8.09L-4.9 -8.09L-4.9 0Z"/></g><g transform="translate(94.94,2273.1) scale(1,1.0)"><text>0<tspan class="h">1</tspan></text><path class="o" d="M5.73 0L5.73 -11.35L4.77 -11.35C4.26 -9.61 3.93 -9.37 1.68 -9.09L1.68 -8.09L4.27 -8.09L4.27 0Z"/></g><g transform="translate(116.22,1624.7) scale(1,1.0)"><text><tspan class="h">1</tspan><tspan class="h">1</tspan></text><path class="o" d="M-3.45 0L-3.45 -11.35L-4.41 -11.35C-4.92 -9.61 -5.25 -9.37 -7.49 -9.09L-7.49 -8.09L-4.9 -8.09L-4.9 0Z"/><path class="o" d="M5.73 0L5.73 -11.35L4.77 -11.35C4.26 -9.61 3.93 -9.37 1.68 -9.09L1.68 -8.09L4.27 -8.09L4.27 0Z"/></g><g transform="translate(116.22,2273.1) scale(1,1.0)"><text>02</text></g><g transform="translate(137.5,1624.7) scale(1,1.0)"><text><tspan class="h">1</tspan>2</text><path class="o" d="M-3.45 0L-3.45 -11.35L-4.41 -11.35C-4.92 -9.61 -5.25 -9.37 -7.49 -9.09L-7.49 -8.09L-4.9 -8.09L-4.9 0Z"/></g><g transform="translate(137.5,2273.1) scale(1,1.0)"><text>03</text></g><g transform="translate(158.79,1624.7) scale(1,1.0)"><text><tspan class="h">1</tspan>3</text><path class="o" d="M-3.45 0L-3.45 -11.35L-4.41 -11.35C-4.92 -9.61 -5.25 -9.37 -7.49 -9.09L-7.49 -8.09L-4.9 -8.09L-4.9 0Z"/></g><g transform="translate(158.79,2273.1) scale(1,1.0)"><text>04</text></g><g transform="translate(180.07,1624.7) scale(1,1.0)"><text><tspan class="h">1</tspan>4</text><path class="o" d="M-3.45 0L-3.45 -11.35L-4.41 -11.35C-4.92 -9.61 -5.25 -9.37 -7.49 -9.09L-7.49 -8.09L-4.9 -8.09L-4.9 0Z"/></g><g transform="translate(180.07,2273.1) scale(1,1.0)"><text>05</text></g><g transform="translate(201.36,1624.7) scale(1,1.0)"><text><tspan class="h">1</tspan>5</text><path class="o" d="M-3.45 0L-3.45 -11.35L-4.41 -11.35C-4.92 -9.61 -5.25 -9.37 -7.49 -9.09L-7.49 -8.09L-4.9 -8.09L-4.9 0Z"/></g><g transform="translate(201.36,2273.1) scale(1,1.0)"><text>06</text></g><g transform="translate(222.65,1624.7) scale(1,1.0)"><text><tspan class="h">1</tspan>6</text><path class="o" d="M-3.45 0L-3.45 -11.35L-4.41 -11.35C-4.92 -9.61 -5.25 -9.37 -7.49 -9.09L-7.49 -8.09L-4.9 -8.09L-4.9 0Z"/></g><g transform="translate(222.65,2273.1) scale(1,1.0)"><text>07</text></g><g transform="translate(243.93,1624.7) scale(1,1.0)"><text><tspan class="h">1</tspan>7</text><path class="o" d="M-3.45 0L-3.45 -11.35L-4.41 -11.35C-4.92 -9.61 -5.25 -9.37 -7.49 -9.09L-7.49 -8.09L-4.9 -8.09L-4.9 0Z"/></g><g transform="translate(243.93,2273.1) scale(1,1.0)"><text>08</text></g><g transform="translate(265.22,1624.7) scale(1,1.0)"><text><tspan class="h">1</tspan>8</text><path class="o" d="M-3.45 0L-3.45 -11.35L-4.41 -11.35C-4.92 -9.61 -5.25 -9.37 -7.49 -9.09L-7.49 -8.09L-4.9 -8.09L-4.9 0Z"/></g><g transform="translate(265.22,2273.1) scale(1,1.0)"><text>09</text></g><g transform="translate(286.5,1624.7) scale(1,1.0)"><text><tspan class="h">1</tspan>9</text><path class="o" d="M-3.45 0L-3.45 -11.35L-4.41 -11.35C-4.92 -9.61 -5.25 -9.37 -7.49 -9.09L-7.49 -8.09L-4.9 -8.09L-4.9 0Z"/></g><g transform="translate(286.5,2273.1) scale(1,1.0)"><text><tspan class="h">1</tspan>0</text><path class="o" d="M-3.45 0L-3.45 -11.35L-4.41 -11.35C-4.92 -9.61 -5.25 -9.37 -7.49 -9.09L-7.49 -8.09L-4.9 -8.09L-4.9 0Z"/></g><g transform="translate(307.78,1624.7) scale(1,1.0)"><text>20</text></g><g transform="translate(307.78,2273.1) scale(1,1.0)"><text><tspan class="h">1</tspan><tspan class="h">1</tspan></text><path class="o" d="M-3.45 0L-3.45 -11.35L-4.41 -11.35C-4.92 -9.61 -5.25 -9.37 -7.49 -9.09L-7.49 -8.09L-4.9 -8.09L-4.9 0Z"/><path class="o" d="M5.73 0L5.73 -11.35L4.77 -11.35C4.26 -9.61 3.93 -9.37 1.68 -9.09L1.68 -8.09L4.27 -8.09L4.27 0Z"/></g><g transform="translate(329.07,1624.7) scale(1,1.0)"><text>2<tspan class="h">1</tspan></text><path class="o" d="M5.73 0L5.73 -11.35L4.77 -11.35C4.26 -9.61 3.93 -9.37 1.68 -9.09L1.68 -8.09L4.27 -8.09L4.27 0Z"/></g><g transform="translate(329.07,2273.1) scale(1,1.0)"><text><tspan class="h">1</tspan>2</text><path class="o" d="M-3.45 0L-3.45 -11.35L-4.41 -11.35C-4.92 -9.61 -5.25 -9.37 -7.49 -9.09L-7.49 -8.09L-4.9 -8.09L-4.9 0Z"/></g><g transform="translate(350.36,1624.7) scale(1,1.0)"><text>22</text></g><g transform="translate(350.36,2273.1) scale(1,1.0)"><text><tspan class="h">1</tspan>3</text><path class="o" d="M-3.45 0L-3.45 -11.35L-4.41 -11.35C-4.92 -9.61 -5.25 -9.37 -7.49 -9.09L-7.49 -8.09L-4.9 -8.09L-4.9 0Z"/></g><g transform="translate(371.64,1624.7) scale(1,1.0)"><text>23</text></g><g transform="translate(371.64,2273.1) scale(1,1.0)"><text><tspan class="h">1</tspan>4</text><path class="o" d="M-3.45 0L-3.45 -11.35L-4.41 -11.35C-4.92 -9.61 -5.25 -9.37 -7.49 -9.09L-7.49 -8.09L-4.9 -8.09L-4.9 0Z"/></g><g transform="translate(392.92,1624.7) scale(1,1.0)"><text>00</text></g><g transform="translate(392.92,2273.1) scale(1,1.0)"><text><tspan class="h">1</tspan>5</text><path class="o" d="M-3.45 0L-3.45 -11.35L-4.41 -11.35C-4.92 -9.61 -5.25 -9.37 -7.49 -9.09L-7.49 -8.09L-4.9 -8.09L-4.9 0Z"/></g><g transform="translate(414.21,1624.7) scale(1,1.0)"><text>0<tspan class="h">1</tspan></text><path class="o" d="M5.73 0L5.73 -11.35L4.77 -11.35C4.26 -9.61 3.93 -9.37 1.68 -9.09L1.68 -8.09L4.27 -8.09L4.27 0Z"/></g><g transform="translate(414.21,2273.1) scale(1,1.0)"><text><tspan class="h">1</tspan>6</text><path class="o" d="M-3.45 0L-3.45 -11.35L-4.41 -11.35C-4.92 -9.61 -5.25 -9.37 -7.49 -9.09L-7.49 -8.09L-4.9 -8.09L-4.9 0Z"/></g><g transform="translate(435.5,1624.7) scale(1,1.0)"><text>02</text></g><g transform="translate(435.5,2273.1) scale(1,1.0)"><text><tspan class="h">1</tspan>7</text><path class="o" d="M-3.45 0L-3.45 -11.35L-4.41 -11.35C-4.92 -9.61 -5.25 -9.37 -7.49 -9.09L-7.49 -8.09L-4.9 -8.09L-4.9 0Z"/></g><g transform="translate(456.78,1624.7) scale(1,1.0)"><text>03</text></g><g transform="translate(456.78,2273.1) scale(1,1.0)"><text><tspan class="h">1</tspan>8</text><path class="o" d="M-3.45 0L-3.45 -11.35L-4.41 -11.35C-4.92 -9.61 -5.25 -9.37 -7.49 -9.09L-7.49 -8.09L-4.9 -8.09L-4.9 0Z"/></g><g transform="translate(478.07,1624.7) scale(1,1.0)"><text>04</text></g><g transform="translate(478.07,2273.1) scale(1,1.0)"><text><tspan class="h">1</tspan>9</text><path class="o" d="M-3.45 0L-3.45 -11.35L-4.41 -11.35C-4.92 -9.61 -5.25 -9.37 -7.49 -9.09L-7.49 -8.09L-4.9 -8.09L-4.9 0Z"/></g><g transform="translate(499.35,1624.7) scale(1,1.0)"><text>05</text></g><g transform="translate(499.35,2273.1) scale(1,1.0)"><text>20</text></g><g transform="translate(520.63,1624.7) scale(1,1.0)"><text>06</text></g><g transform="translate(520.63,2273.1) scale(1,1.0)"><text>2<tspan class="h">1</tspan></text><path class="o" d="M5.73 0L5.73 -11.35L4.77 -11.35C4.26 -9.61 3.93 -9.37 1.68 -9.09L1.68 -8.09L4.27 -8.09L4.27 0Z"/></g><g transform="translate(541.92,1624.7) scale(1,1.0)"><text>07</text></g><g transform="translate(541.92,2273.1) scale(1,1.0)"><text>22</text></g><g transform="translate(563.21,1624.7) scale(1,1.0)"><text>08</text></g><g transform="translate(563.21,2273.1) scale(1,1.0)"><text>23</text></g></g><g font-size="18.45" text-anchor="middle"><text transform="translate(318.43,1604.4) scale(1,1.044)">JST hour</text><text transform="translate(318.43,2294.5) scale(1,1.044)">GMT hour</text></g><g font-size="15.1" text-anchor="end"><g transform="translate(36.65,2224.6) rotate(-90) scale(1,1.035)"><text>0</text></g><g transform="translate(36.65,2035.5) rotate(-90) scale(1,1.035)"><text>200</text></g><g transform="translate(36.65,1846.4) rotate(-90) scale(1,1.035)"><text>400</text></g><g transform="translate(36.65,1657.3) rotate(-90) scale(1,1.035)"><text>600</text></g></g><text font-size="20.2" text-anchor="middle" transform="translate(14.95,1942.25) rotate(-90) scale(1,1.044)">Mean hourly volume (BTC)</text></g><g><rect x="655.25" y="1632.5" width="544.35" height="619.5" fill="#ebebeb"/><line x1="655.25" x2="1199.6" y1="2129.45" y2="2129.45" stroke="#fff" stroke-width="1.15"/><line x1="655.25" x2="1199.6" y1="1939.95" y2="1939.95" stroke="#fff" stroke-width="1.15"/><line x1="655.25" x2="1199.6" y1="1750.45" y2="1750.45" stroke="#fff" stroke-width="1.15"/><line x1="661.37" x2="661.37" y1="1632.5" y2="2252" stroke="#fff" stroke-width="1.15"/><line x1="672.01" x2="672.01" y1="1632.5" y2="2252" stroke="#fff" stroke-width="1.15"/><line x1="693.29" x2="693.29" y1="1632.5" y2="2252" stroke="#fff" stroke-width="1.15"/><line x1="714.58" x2="714.58" y1="1632.5" y2="2252" stroke="#fff" stroke-width="1.15"/><line x1="735.86" x2="735.86" y1="1632.5" y2="2252" stroke="#fff" stroke-width="1.15"/><line x1="757.15" x2="757.15" y1="1632.5" y2="2252" stroke="#fff" stroke-width="1.15"/><line x1="778.43" x2="778.43" y1="1632.5" y2="2252" stroke="#fff" stroke-width="1.15"/><line x1="799.72" x2="799.72" y1="1632.5" y2="2252" stroke="#fff" stroke-width="1.15"/><line x1="821" x2="821" y1="1632.5" y2="2252" stroke="#fff" stroke-width="1.15"/><line x1="842.29" x2="842.29" y1="1632.5" y2="2252" stroke="#fff" stroke-width="1.15"/><line x1="863.57" x2="863.57" y1="1632.5" y2="2252" stroke="#fff" stroke-width="1.15"/><line x1="884.86" x2="884.86" y1="1632.5" y2="2252" stroke="#fff" stroke-width="1.15"/><line x1="906.14" x2="906.14" y1="1632.5" y2="2252" stroke="#fff" stroke-width="1.15"/><line x1="927.43" x2="927.43" y1="1632.5" y2="2252" stroke="#fff" stroke-width="1.15"/><line x1="948.71" x2="948.71" y1="1632.5" y2="2252" stroke="#fff" stroke-width="1.15"/><line x1="970" x2="970" y1="1632.5" y2="2252" stroke="#fff" stroke-width="1.15"/><line x1="991.28" x2="991.28" y1="1632.5" y2="2252" stroke="#fff" stroke-width="1.15"/><line x1="1012.57" x2="1012.57" y1="1632.5" y2="2252" stroke="#fff" stroke-width="1.15"/><line x1="1033.85" x2="1033.85" y1="1632.5" y2="2252" stroke="#fff" stroke-width="1.15"/><line x1="1055.14" x2="1055.14" y1="1632.5" y2="2252" stroke="#fff" stroke-width="1.15"/><line x1="1076.42" x2="1076.42" y1="1632.5" y2="2252" stroke="#fff" stroke-width="1.15"/><line x1="1097.71" x2="1097.71" y1="1632.5" y2="2252" stroke="#fff" stroke-width="1.15"/><line x1="1118.99" x2="1118.99" y1="1632.5" y2="2252" stroke="#fff" stroke-width="1.15"/><line x1="1140.28" x2="1140.28" y1="1632.5" y2="2252" stroke="#fff" stroke-width="1.15"/><line x1="1161.56" x2="1161.56" y1="1632.5" y2="2252" stroke="#fff" stroke-width="1.15"/><line x1="1182.85" x2="1182.85" y1="1632.5" y2="2252" stroke="#fff" stroke-width="1.15"/><line x1="1193.49" x2="1193.49" y1="1632.5" y2="2252" stroke="#fff" stroke-width="1.15"/><line x1="655.25" x2="1199.6" y1="2224.2" y2="2224.2" stroke="#fff" stroke-width="1.8"/><line x1="655.25" x2="1199.6" y1="2034.7" y2="2034.7" stroke="#fff" stroke-width="1.8"/><line x1="655.25" x2="1199.6" y1="1845.2" y2="1845.2" stroke="#fff" stroke-width="1.8"/><line x1="655.25" x2="1199.6" y1="1655.7" y2="1655.7" stroke="#fff" stroke-width="1.8"/><line x1="682.65" x2="682.65" y1="1632.5" y2="2252" stroke="#fff" stroke-width="1.8"/><line x1="703.93" x2="703.93" y1="1632.5" y2="2252" stroke="#fff" stroke-width="1.8"/><line x1="725.22" x2="725.22" y1="1632.5" y2="2252" stroke="#fff" stroke-width="1.8"/><line x1="746.5" x2="746.5" y1="1632.5" y2="2252" stroke="#fff" stroke-width="1.8"/><line x1="767.79" x2="767.79" y1="1632.5" y2="2252" stroke="#fff" stroke-width="1.8"/><line x1="789.07" x2="789.07" y1="1632.5" y2="2252" stroke="#fff" stroke-width="1.8"/><line x1="810.36" x2="810.36" y1="1632.5" y2="2252" stroke="#fff" stroke-width="1.8"/><line x1="831.64" x2="831.64" y1="1632.5" y2="2252" stroke="#fff" stroke-width="1.8"/><line x1="852.93" x2="852.93" y1="1632.5" y2="2252" stroke="#fff" stroke-width="1.8"/><line x1="874.21" x2="874.21" y1="1632.5" y2="2252" stroke="#fff" stroke-width="1.8"/><line x1="895.5" x2="895.5" y1="1632.5" y2="2252" stroke="#fff" stroke-width="1.8"/><line x1="916.78" x2="916.78" y1="1632.5" y2="2252" stroke="#fff" stroke-width="1.8"/><line x1="938.07" x2="938.07" y1="1632.5" y2="2252" stroke="#fff" stroke-width="1.8"/><line x1="959.36" x2="959.36" y1="1632.5" y2="2252" stroke="#fff" stroke-width="1.8"/><line x1="980.64" x2="980.64" y1="1632.5" y2="2252" stroke="#fff" stroke-width="1.8"/><line x1="1001.92" x2="1001.92" y1="1632.5" y2="2252" stroke="#fff" stroke-width="1.8"/><line x1="1023.21" x2="1023.21" y1="1632.5" y2="2252" stroke="#fff" stroke-width="1.8"/><line x1="1044.49" x2="1044.49" y1="1632.5" y2="2252" stroke="#fff" stroke-width="1.8"/><line x1="1065.78" x2="1065.78" y1="1632.5" y2="2252" stroke="#fff" stroke-width="1.8"/><line x1="1087.07" x2="1087.07" y1="1632.5" y2="2252" stroke="#fff" stroke-width="1.8"/><line x1="1108.35" x2="1108.35" y1="1632.5" y2="2252" stroke="#fff" stroke-width="1.8"/><line x1="1129.63" x2="1129.63" y1="1632.5" y2="2252" stroke="#fff" stroke-width="1.8"/><line x1="1150.92" x2="1150.92" y1="1632.5" y2="2252" stroke="#fff" stroke-width="1.8"/><line x1="1172.2" x2="1172.2" y1="1632.5" y2="2252" stroke="#fff" stroke-width="1.8"/><rect x="679.98" y="1692.75" width="5.35" height="531.45" fill="#ff6347"/><rect x="701.26" y="1702.9" width="5.35" height="521.3" fill="#ff6347"/><rect x="722.55" y="1731.2" width="5.35" height="493" fill="#ff6347"/><rect x="743.83" y="1741.8" width="5.35" height="482.4" fill="#ff6347"/><rect x="765.12" y="1755.3" width="5.35" height="468.9" fill="#ff6347"/><rect x="786.4" y="1767.2" width="5.35" height="457" fill="#ff6347"/><rect x="807.69" y="1780.3" width="5.35" height="443.9" fill="#ff6347"/><rect x="828.97" y="1766.3" width="5.35" height="457.9" fill="#ff6347"/><rect x="850.25" y="1739.1" width="5.35" height="485.1" fill="#ff6347"/><rect x="871.54" y="1729.4" width="5.35" height="494.8" fill="#ff6347"/><rect x="892.83" y="1715" width="5.35" height="509.2" fill="#ff6347"/><rect x="914.11" y="1705.8" width="5.35" height="518.4" fill="#ff6347"/><rect x="935.39" y="1676.8" width="5.35" height="547.4" fill="#ff6347"/><rect x="956.68" y="1660.8" width="5.35" height="563.4" fill="#ff6347"/><rect x="977.97" y="1664.4" width="5.35" height="559.8" fill="#ff6347"/><rect x="999.25" y="1721.1" width="5.35" height="503.1" fill="#ff6347"/><rect x="1020.54" y="1757.3" width="5.35" height="466.9" fill="#ff6347"/><rect x="1041.82" y="1837" width="5.35" height="387.2" fill="#ff6347"/><rect x="1063.11" y="1895.8" width="5.35" height="328.4" fill="#ff6347"/><rect x="1084.39" y="1946.2" width="5.35" height="278" fill="#ff6347"/><rect x="1105.67" y="1865.2" width="5.35" height="359" fill="#ff6347"/><rect x="1126.96" y="1835" width="5.35" height="389.2" fill="#ff6347"/><rect x="1148.25" y="1777.4" width="5.35" height="446.8" fill="#ff6347"/><rect x="1169.53" y="1761.2" width="5.35" height="463" fill="#ff6347"/><path d="M682.65 1627.6V1632.5M682.65 2252V2256.9M703.93 1627.6V1632.5M703.93 2252V2256.9M725.22 1627.6V1632.5M725.22 2252V2256.9M746.5 1627.6V1632.5M746.5 2252V2256.9M767.79 1627.6V1632.5M767.79 2252V2256.9M789.07 1627.6V1632.5M789.07 2252V2256.9M810.36 1627.6V1632.5M810.36 2252V2256.9M831.64 1627.6V1632.5M831.64 2252V2256.9M852.93 1627.6V1632.5M852.93 2252V2256.9M874.21 1627.6V1632.5M874.21 2252V2256.9M895.5 1627.6V1632.5M895.5 2252V2256.9M916.78 1627.6V1632.5M916.78 2252V2256.9M938.07 1627.6V1632.5M938.07 2252V2256.9M959.36 1627.6V1632.5M959.36 2252V2256.9M980.64 1627.6V1632.5M980.64 2252V2256.9M1001.92 1627.6V1632.5M1001.92 2252V2256.9M1023.21 1627.6V1632.5M1023.21 2252V2256.9M1044.49 1627.6V1632.5M1044.49 2252V2256.9M1065.78 1627.6V1632.5M1065.78 2252V2256.9M1087.07 1627.6V1632.5M1087.07 2252V2256.9M1108.35 1627.6V1632.5M1108.35 2252V2256.9M1129.63 1627.6V1632.5M1129.63 2252V2256.9M1150.92 1627.6V1632.5M1150.92 2252V2256.9M1172.2 1627.6V1632.5M1172.2 2252V2256.9M650.35 2224.2H655.25M650.35 2034.7H655.25M650.35 1845.2H655.25M650.35 1655.7H655.25" stroke="#333333" stroke-width="1.9" fill="none"/><g font-size="16.5" text-anchor="middle"><g transform="translate(682.65,1624.7) scale(1,1.0)"><text>09</text></g><g transform="translate(682.65,2273.1) scale(1,1.0)"><text>00</text></g><g transform="translate(703.93,1624.7) scale(1,1.0)"><text><tspan class="h">1</tspan>0</text><path class="o" d="M-3.45 0L-3.45 -11.35L-4.41 -11.35C-4.92 -9.61 -5.25 -9.37 -7.49 -9.09L-7.49 -8.09L-4.9 -8.09L-4.9 0Z"/></g><g transform="translate(703.93,2273.1) scale(1,1.0)"><text>0<tspan class="h">1</tspan></text><path class="o" d="M5.73 0L5.73 -11.35L4.77 -11.35C4.26 -9.61 3.93 -9.37 1.68 -9.09L1.68 -8.09L4.27 -8.09L4.27 0Z"/></g><g transform="translate(725.22,1624.7) scale(1,1.0)"><text><tspan class="h">1</tspan><tspan class="h">1</tspan></text><path class="o" d="M-3.45 0L-3.45 -11.35L-4.41 -11.35C-4.92 -9.61 -5.25 -9.37 -7.49 -9.09L-7.49 -8.09L-4.9 -8.09L-4.9 0Z"/><path class="o" d="M5.73 0L5.73 -11.35L4.77 -11.35C4.26 -9.61 3.93 -9.37 1.68 -9.09L1.68 -8.09L4.27 -8.09L4.27 0Z"/></g><g transform="translate(725.22,2273.1) scale(1,1.0)"><text>02</text></g><g transform="translate(746.5,1624.7) scale(1,1.0)"><text><tspan class="h">1</tspan>2</text><path class="o" d="M-3.45 0L-3.45 -11.35L-4.41 -11.35C-4.92 -9.61 -5.25 -9.37 -7.49 -9.09L-7.49 -8.09L-4.9 -8.09L-4.9 0Z"/></g><g transform="translate(746.5,2273.1) scale(1,1.0)"><text>03</text></g><g transform="translate(767.79,1624.7) scale(1,1.0)"><text><tspan class="h">1</tspan>3</text><path class="o" d="M-3.45 0L-3.45 -11.35L-4.41 -11.35C-4.92 -9.61 -5.25 -9.37 -7.49 -9.09L-7.49 -8.09L-4.9 -8.09L-4.9 0Z"/></g><g transform="translate(767.79,2273.1) scale(1,1.0)"><text>04</text></g><g transform="translate(789.07,1624.7) scale(1,1.0)"><text><tspan class="h">1</tspan>4</text><path class="o" d="M-3.45 0L-3.45 -11.35L-4.41 -11.35C-4.92 -9.61 -5.25 -9.37 -7.49 -9.09L-7.49 -8.09L-4.9 -8.09L-4.9 0Z"/></g><g transform="translate(789.07,2273.1) scale(1,1.0)"><text>05</text></g><g transform="translate(810.36,1624.7) scale(1,1.0)"><text><tspan class="h">1</tspan>5</text><path class="o" d="M-3.45 0L-3.45 -11.35L-4.41 -11.35C-4.92 -9.61 -5.25 -9.37 -7.49 -9.09L-7.49 -8.09L-4.9 -8.09L-4.9 0Z"/></g><g transform="translate(810.36,2273.1) scale(1,1.0)"><text>06</text></g><g transform="translate(831.64,1624.7) scale(1,1.0)"><text><tspan class="h">1</tspan>6</text><path class="o" d="M-3.45 0L-3.45 -11.35L-4.41 -11.35C-4.92 -9.61 -5.25 -9.37 -7.49 -9.09L-7.49 -8.09L-4.9 -8.09L-4.9 0Z"/></g><g transform="translate(831.64,2273.1) scale(1,1.0)"><text>07</text></g><g transform="translate(852.93,1624.7) scale(1,1.0)"><text><tspan class="h">1</tspan>7</text><path class="o" d="M-3.45 0L-3.45 -11.35L-4.41 -11.35C-4.92 -9.61 -5.25 -9.37 -7.49 -9.09L-7.49 -8.09L-4.9 -8.09L-4.9 0Z"/></g><g transform="translate(852.93,2273.1) scale(1,1.0)"><text>08</text></g><g transform="translate(874.21,1624.7) scale(1,1.0)"><text><tspan class="h">1</tspan>8</text><path class="o" d="M-3.45 0L-3.45 -11.35L-4.41 -11.35C-4.92 -9.61 -5.25 -9.37 -7.49 -9.09L-7.49 -8.09L-4.9 -8.09L-4.9 0Z"/></g><g transform="translate(874.21,2273.1) scale(1,1.0)"><text>09</text></g><g transform="translate(895.5,1624.7) scale(1,1.0)"><text><tspan class="h">1</tspan>9</text><path class="o" d="M-3.45 0L-3.45 -11.35L-4.41 -11.35C-4.92 -9.61 -5.25 -9.37 -7.49 -9.09L-7.49 -8.09L-4.9 -8.09L-4.9 0Z"/></g><g transform="translate(895.5,2273.1) scale(1,1.0)"><text><tspan class="h">1</tspan>0</text><path class="o" d="M-3.45 0L-3.45 -11.35L-4.41 -11.35C-4.92 -9.61 -5.25 -9.37 -7.49 -9.09L-7.49 -8.09L-4.9 -8.09L-4.9 0Z"/></g><g transform="translate(916.78,1624.7) scale(1,1.0)"><text>20</text></g><g transform="translate(916.78,2273.1) scale(1,1.0)"><text><tspan class="h">1</tspan><tspan class="h">1</tspan></text><path class="o" d="M-3.45 0L-3.45 -11.35L-4.41 -11.35C-4.92 -9.61 -5.25 -9.37 -7.49 -9.09L-7.49 -8.09L-4.9 -8.09L-4.9 0Z"/><path class="o" d="M5.73 0L5.73 -11.35L4.77 -11.35C4.26 -9.61 3.93 -9.37 1.68 -9.09L1.68 -8.09L4.27 -8.09L4.27 0Z"/></g><g transform="translate(938.07,1624.7) scale(1,1.0)"><text>2<tspan class="h">1</tspan></text><path class="o" d="M5.73 0L5.73 -11.35L4.77 -11.35C4.26 -9.61 3.93 -9.37 1.68 -9.09L1.68 -8.09L4.27 -8.09L4.27 0Z"/></g><g transform="translate(938.07,2273.1) scale(1,1.0)"><text><tspan class="h">1</tspan>2</text><path class="o" d="M-3.45 0L-3.45 -11.35L-4.41 -11.35C-4.92 -9.61 -5.25 -9.37 -7.49 -9.09L-7.49 -8.09L-4.9 -8.09L-4.9 0Z"/></g><g transform="translate(959.36,1624.7) scale(1,1.0)"><text>22</text></g><g transform="translate(959.36,2273.1) scale(1,1.0)"><text><tspan class="h">1</tspan>3</text><path class="o" d="M-3.45 0L-3.45 -11.35L-4.41 -11.35C-4.92 -9.61 -5.25 -9.37 -7.49 -9.09L-7.49 -8.09L-4.9 -8.09L-4.9 0Z"/></g><g transform="translate(980.64,1624.7) scale(1,1.0)"><text>23</text></g><g transform="translate(980.64,2273.1) scale(1,1.0)"><text><tspan class="h">1</tspan>4</text><path class="o" d="M-3.45 0L-3.45 -11.35L-4.41 -11.35C-4.92 -9.61 -5.25 -9.37 -7.49 -9.09L-7.49 -8.09L-4.9 -8.09L-4.9 0Z"/></g><g transform="translate(1001.92,1624.7) scale(1,1.0)"><text>00</text></g><g transform="translate(1001.92,2273.1) scale(1,1.0)"><text><tspan class="h">1</tspan>5</text><path class="o" d="M-3.45 0L-3.45 -11.35L-4.41 -11.35C-4.92 -9.61 -5.25 -9.37 -7.49 -9.09L-7.49 -8.09L-4.9 -8.09L-4.9 0Z"/></g><g transform="translate(1023.21,1624.7) scale(1,1.0)"><text>0<tspan class="h">1</tspan></text><path class="o" d="M5.73 0L5.73 -11.35L4.77 -11.35C4.26 -9.61 3.93 -9.37 1.68 -9.09L1.68 -8.09L4.27 -8.09L4.27 0Z"/></g><g transform="translate(1023.21,2273.1) scale(1,1.0)"><text><tspan class="h">1</tspan>6</text><path class="o" d="M-3.45 0L-3.45 -11.35L-4.41 -11.35C-4.92 -9.61 -5.25 -9.37 -7.49 -9.09L-7.49 -8.09L-4.9 -8.09L-4.9 0Z"/></g><g transform="translate(1044.49,1624.7) scale(1,1.0)"><text>02</text></g><g transform="translate(1044.49,2273.1) scale(1,1.0)"><text><tspan class="h">1</tspan>7</text><path class="o" d="M-3.45 0L-3.45 -11.35L-4.41 -11.35C-4.92 -9.61 -5.25 -9.37 -7.49 -9.09L-7.49 -8.09L-4.9 -8.09L-4.9 0Z"/></g><g transform="translate(1065.78,1624.7) scale(1,1.0)"><text>03</text></g><g transform="translate(1065.78,2273.1) scale(1,1.0)"><text><tspan class="h">1</tspan>8</text><path class="o" d="M-3.45 0L-3.45 -11.35L-4.41 -11.35C-4.92 -9.61 -5.25 -9.37 -7.49 -9.09L-7.49 -8.09L-4.9 -8.09L-4.9 0Z"/></g><g transform="translate(1087.07,1624.7) scale(1,1.0)"><text>04</text></g><g transform="translate(1087.07,2273.1) scale(1,1.0)"><text><tspan class="h">1</tspan>9</text><path class="o" d="M-3.45 0L-3.45 -11.35L-4.41 -11.35C-4.92 -9.61 -5.25 -9.37 -7.49 -9.09L-7.49 -8.09L-4.9 -8.09L-4.9 0Z"/></g><g transform="translate(1108.35,1624.7) scale(1,1.0)"><text>05</text></g><g transform="translate(1108.35,2273.1) scale(1,1.0)"><text>20</text></g><g transform="translate(1129.63,1624.7) scale(1,1.0)"><text>06</text></g><g transform="translate(1129.63,2273.1) scale(1,1.0)"><text>2<tspan class="h">1</tspan></text><path class="o" d="M5.73 0L5.73 -11.35L4.77 -11.35C4.26 -9.61 3.93 -9.37 1.68 -9.09L1.68 -8.09L4.27 -8.09L4.27 0Z"/></g><g transform="translate(1150.92,1624.7) scale(1,1.0)"><text>07</text></g><g transform="translate(1150.92,2273.1) scale(1,1.0)"><text>22</text></g><g transform="translate(1172.2,1624.7) scale(1,1.0)"><text>08</text></g><g transform="translate(1172.2,2273.1) scale(1,1.0)"><text>23</text></g></g><g font-size="18.45" text-anchor="middle"><text transform="translate(927.42,1604.4) scale(1,1.044)">JST hour</text><text transform="translate(927.42,2294.5) scale(1,1.044)">GMT hour</text></g><g font-size="15.1" text-anchor="end"><g transform="translate(645.65,2224.6) rotate(-90) scale(1,1.035)"><text>0</text></g><g transform="translate(645.65,2035.1) rotate(-90) scale(1,1.035)"><text><tspan class="h">1</tspan>000</text><path class="o" d="M-28.35 0L-28.35 -10.39L-29.23 -10.39C-29.7 -8.79 -30 -8.57 -32.05 -8.32L-32.05 -7.4L-29.68 -7.4L-29.68 0Z"/></g><g transform="translate(645.65,1845.6) rotate(-90) scale(1,1.035)"><text>2000</text></g><g transform="translate(645.65,1656.1) rotate(-90) scale(1,1.035)"><text>3000</text></g></g><text font-size="20.2" text-anchor="middle" transform="translate(623.95,1942.25) rotate(-90) scale(1,1.044)">Mean hourly counts</text></g></g>
<g class="r" font-size="200"><text transform="matrix(0.1600 0 0 0.1817 502.76 768.37)">(</text><text class="b" transform="matrix(0.1861 0 0 0.1665 514.10 767.70)">a</text><text transform="matrix(0.1600 0 0 0.1817 531.24 768.37)">)</text><text class="b" transform="matrix(0.1677 0 0 0.1665 554.16 767.70)">Coincheck</text><text transform="matrix(0.1600 0 0 0.1817 521.26 1562.57)">(</text><text class="b" transform="matrix(0.1772 0 0 0.1665 533.20 1561.90)">b</text><text transform="matrix(0.1600 0 0 0.1817 551.24 1562.57)">)</text><text class="b" transform="matrix(0.1730 0 0 0.1665 574.16 1561.90)">BtcBox</text><text transform="matrix(0.1600 0 0 0.1817 519.06 2356.87)">(</text><text class="b" transform="matrix(0.1680 0 0 0.1665 529.86 2356.10)">c</text><text transform="matrix(0.1600 0 0 0.1817 545.24 2356.87)">)</text><text class="b" transform="matrix(0.1758 0 0 0.1665 569.50 2356.10)">bitFlyer</text><text class="b" transform="matrix(0.1790 0 0 0.1830 590.40 2205.66)">6</text></g>
</svg>
</body></html>
